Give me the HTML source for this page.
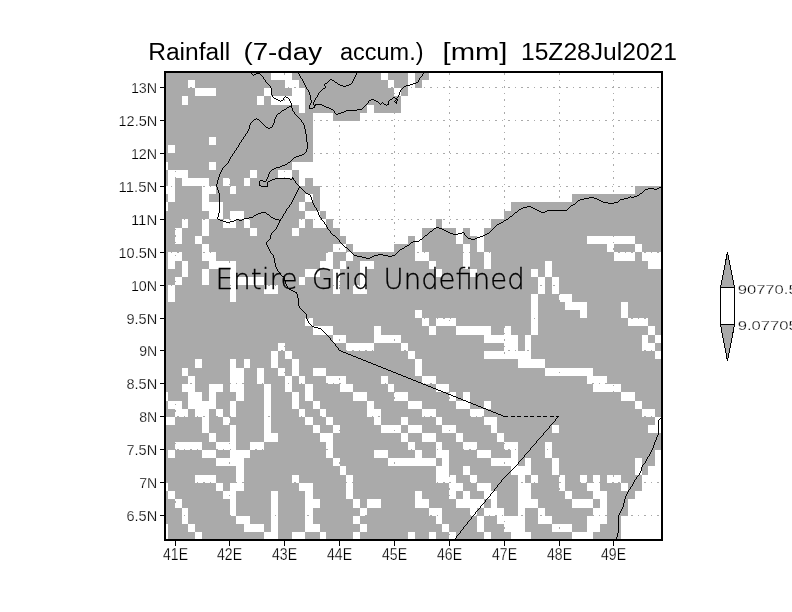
<!DOCTYPE html>
<html><head><meta charset="utf-8"><title>Rainfall (7-day accum.)</title>
<style>html,body{margin:0;padding:0;background:#fff}svg{display:block}text{font-family:"Liberation Sans","DejaVu Sans",sans-serif;fill:#000}.t{font-size:23px}.a{font-size:15.2px}.b{font-size:16.8px}.a,.b,.c{stroke:#fff;stroke-width:.25px}.c{font-size:13px}.u{font-family:"DejaVu Sans","Liberation Sans",sans-serif;font-weight:200;font-size:28.6px;stroke:#000;stroke-width:.3px}</style></head><body>
<svg width="792" height="612" viewBox="0 0 792 612">
<rect width="792" height="612" fill="#fff"/>
<g shape-rendering="crispEdges">
<rect x="166" y="73" width="495" height="466" fill="#aaaaaa"/>
<path fill="#fff" d="M271 73h21v7h-21zM381 73h7v7h-7zM408 73h7v7h-7zM429 73h232v7h-232zM188 80h7v8h-7zM285 80h14v8h-14zM388 80h6v8h-6zM408 80h7v8h-7zM422 80h239v8h-239zM195 88h21v8h-21zM264 88h7v8h-7zM292 88h13v8h-13zM394 88h7v8h-7zM408 88h253v8h-253zM182 96h6v9h-6zM257 96h7v9h-7zM271 96h34v9h-34zM401 96h260v9h-260zM299 105h6v8h-6zM367 105h7v8h-7zM401 105h260v8h-260zM313 113h20v8h-20zM360 113h301v8h-301zM313 121h348v8h-348zM313 129h348v8h-348zM209 137h7v8h-7zM313 137h348v8h-348zM168 145h7v8h-7zM313 145h348v8h-348zM313 153h348v9h-348zM166 162h2v8h-2zM209 162h7v8h-7zM292 162h369v8h-369zM168 170h20v8h-20zM250 170h7v8h-7zM278 170h14v8h-14zM299 170h362v8h-362zM168 178h7v8h-7zM182 178h27v8h-27zM223 178h7v8h-7zM244 178h6v8h-6zM299 178h6v8h-6zM313 178h348v8h-348zM166 186h9v8h-9zM202 186h14v8h-14zM230 186h6v8h-6zM320 186h315v8h-315zM168 194h7v8h-7zM202 194h7v8h-7zM305 194h8v8h-8zM320 194h252v8h-252zM166 202h2v9h-2zM202 202h21v9h-21zM299 202h6v9h-6zM320 202h191v9h-191zM209 211h14v8h-14zM230 211h14v8h-14zM305 211h15v8h-15zM326 211h178v8h-178zM182 219h6v9h-6zM202 219h7v9h-7zM223 219h13v9h-13zM244 219h6v9h-6zM299 219h6v9h-6zM313 219h13v9h-13zM333 219h103v9h-103zM442 219h49v9h-49zM175 228h7v8h-7zM202 228h7v8h-7zM250 228h7v8h-7zM292 228h7v8h-7zM340 228h82v8h-82zM456 228h7v8h-7zM470 228h14v8h-14zM175 236h7v8h-7zM195 236h7v8h-7zM346 236h62v8h-62zM415 236h7v8h-7zM456 236h7v8h-7zM477 236h7v8h-7zM587 236h48v8h-48zM202 244h7v8h-7zM333 244h13v8h-13zM353 244h41v8h-41zM415 244h7v8h-7zM463 244h7v8h-7zM477 244h7v8h-7zM607 244h7v8h-7zM635 244h7v8h-7zM168 252h14v9h-14zM202 252h14v9h-14zM326 252h7v9h-7zM346 252h7v9h-7zM415 252h14v9h-14zM463 252h7v9h-7zM484 252h7v9h-7zM614 252h21v9h-21zM642 252h19v9h-19zM168 261h7v8h-7zM182 261h6v8h-6zM209 261h27v8h-27zM320 261h13v8h-13zM340 261h6v8h-6zM360 261h14v8h-14zM429 261h7v8h-7zM463 261h7v8h-7zM484 261h7v8h-7zM545 261h7v8h-7zM648 261h13v8h-13zM182 269h6v8h-6zM202 269h7v8h-7zM230 269h6v8h-6zM305 269h15v8h-15zM333 269h7v8h-7zM360 269h7v8h-7zM436 269h6v8h-6zM470 269h7v8h-7zM531 269h7v8h-7zM545 269h7v8h-7zM175 277h7v8h-7zM202 277h7v8h-7zM230 277h34v8h-34zM299 277h6v8h-6zM333 277h7v8h-7zM360 277h7v8h-7zM538 277h7v8h-7zM552 277h7v8h-7zM168 285h7v9h-7zM230 285h6v9h-6zM264 285h14v9h-14zM333 285h7v9h-7zM353 285h14v9h-14zM538 285h7v9h-7zM552 285h7v9h-7zM168 294h7v8h-7zM230 294h6v8h-6zM531 294h7v8h-7zM559 294h13v8h-13zM531 302h7v8h-7zM565 302h22v8h-22zM621 302h7v8h-7zM415 310h7v8h-7zM531 310h7v8h-7zM580 310h7v8h-7zM621 310h7v8h-7zM305 318h8v8h-8zM422 318h7v8h-7zM436 318h20v8h-20zM531 318h7v8h-7zM628 318h20v8h-20zM313 326h20v9h-20zM374 326h7v9h-7zM429 326h7v9h-7zM456 326h35v9h-35zM504 326h7v9h-7zM531 326h7v9h-7zM648 326h7v9h-7zM333 335h13v8h-13zM374 335h27v8h-27zM484 335h34v8h-34zM525 335h6v8h-6zM642 335h6v8h-6zM655 335h6v8h-6zM278 343h7v8h-7zM346 343h28v8h-28zM401 343h7v8h-7zM504 343h14v8h-14zM525 343h6v8h-6zM642 343h13v8h-13zM271 351h7v8h-7zM285 351h7v8h-7zM408 351h7v8h-7zM484 351h47v8h-47zM655 351h6v8h-6zM195 359h7v9h-7zM230 359h6v9h-6zM244 359h6v9h-6zM271 359h7v9h-7zM292 359h7v9h-7zM415 359h7v9h-7zM518 359h27v9h-27zM182 368h6v8h-6zM230 368h14v8h-14zM257 368h7v8h-7zM278 368h7v8h-7zM292 368h7v8h-7zM313 368h13v8h-13zM415 368h7v8h-7zM545 368h48v8h-48zM188 376h7v8h-7zM230 376h14v8h-14zM257 376h7v8h-7zM285 376h7v8h-7zM299 376h6v8h-6zM326 376h20v8h-20zM381 376h7v8h-7zM422 376h14v8h-14zM587 376h20v8h-20zM182 384h13v8h-13zM209 384h14v8h-14zM230 384h14v8h-14zM264 384h7v8h-7zM285 384h7v8h-7zM305 384h8v8h-8zM340 384h13v8h-13zM388 384h6v8h-6zM436 384h13v8h-13zM593 384h28v8h-28zM166 392h2v9h-2zM188 392h14v9h-14zM209 392h7v9h-7zM236 392h8v9h-8zM264 392h7v9h-7zM292 392h7v9h-7zM305 392h8v9h-8zM353 392h14v9h-14zM394 392h14v9h-14zM449 392h7v9h-7zM463 392h7v9h-7zM621 392h14v9h-14zM168 401h14v8h-14zM188 401h28v8h-28zM230 401h6v8h-6zM264 401h7v8h-7zM292 401h7v8h-7zM313 401h7v8h-7zM367 401h7v8h-7zM408 401h14v8h-14zM456 401h14v8h-14zM484 401h7v8h-7zM635 401h7v8h-7zM175 409h13v8h-13zM195 409h14v8h-14zM216 409h7v8h-7zM230 409h6v8h-6zM264 409h7v8h-7zM299 409h6v8h-6zM320 409h6v8h-6zM367 409h14v8h-14zM422 409h14v8h-14zM470 409h14v8h-14zM642 409h13v8h-13zM166 417h9v8h-9zM202 417h7v8h-7zM223 417h7v8h-7zM264 417h7v8h-7zM305 417h8v8h-8zM326 417h7v8h-7zM374 417h7v8h-7zM401 417h7v8h-7zM436 417h6v8h-6zM484 417h13v8h-13zM655 417h6v8h-6zM202 425h7v8h-7zM230 425h6v8h-6zM264 425h7v8h-7zM313 425h7v8h-7zM333 425h7v8h-7zM381 425h20v8h-20zM408 425h14v8h-14zM442 425h14v8h-14zM491 425h6v8h-6zM552 425h7v8h-7zM648 425h13v8h-13zM209 433h7v9h-7zM230 433h6v9h-6zM264 433h14v9h-14zM320 433h13v9h-13zM401 433h7v9h-7zM422 433h14v9h-14zM456 433h7v9h-7zM497 433h7v9h-7zM175 442h27v8h-27zM216 442h20v8h-20zM250 442h14v8h-14zM326 442h7v8h-7zM408 442h7v8h-7zM436 442h6v8h-6zM463 442h14v8h-14zM504 442h14v8h-14zM545 442h7v8h-7zM168 450h7v8h-7zM202 450h14v8h-14zM230 450h20v8h-20zM326 450h7v8h-7zM374 450h14v8h-14zM415 450h7v8h-7zM436 450h13v8h-13zM477 450h14v8h-14zM511 450h7v8h-7zM545 450h7v8h-7zM655 450h6v8h-6zM216 458h28v8h-28zM333 458h7v8h-7zM388 458h48v8h-48zM442 458h7v8h-7zM491 458h27v8h-27zM525 458h6v8h-6zM552 458h7v8h-7zM635 458h7v8h-7zM655 458h6v8h-6zM236 466h8v9h-8zM340 466h6v9h-6zM436 466h13v9h-13zM463 466h7v9h-7zM511 466h20v9h-20zM552 466h7v9h-7zM635 466h7v9h-7zM648 466h13v9h-13zM195 475h21v8h-21zM236 475h8v8h-8zM292 475h7v8h-7zM346 475h7v8h-7zM436 475h20v8h-20zM470 475h7v8h-7zM518 475h7v8h-7zM531 475h7v8h-7zM559 475h6v8h-6zM580 475h7v8h-7zM593 475h7v8h-7zM607 475h14v8h-14zM642 475h19v8h-19zM166 483h2v8h-2zM216 483h7v8h-7zM230 483h14v8h-14zM299 483h14v8h-14zM346 483h7v8h-7zM449 483h14v8h-14zM477 483h14v8h-14zM518 483h13v8h-13zM559 483h6v8h-6zM587 483h13v8h-13zM621 483h7v8h-7zM642 483h19v8h-19zM168 491h7v8h-7zM223 491h13v8h-13zM271 491h7v8h-7zM305 491h8v8h-8zM346 491h7v8h-7zM415 491h7v8h-7zM449 491h7v8h-7zM463 491h7v8h-7zM484 491h13v8h-13zM518 491h13v8h-13zM565 491h7v8h-7zM593 491h14v8h-14zM635 491h26v8h-26zM175 499h7v9h-7zM230 499h6v9h-6zM271 499h7v9h-7zM305 499h15v9h-15zM353 499h7v9h-7zM367 499h14v9h-14zM415 499h14v9h-14zM456 499h28v9h-28zM491 499h6v9h-6zM518 499h20v9h-20zM572 499h21v9h-21zM600 499h7v9h-7zM628 499h33v9h-33zM182 508h6v8h-6zM230 508h6v8h-6zM271 508h7v8h-7zM305 508h8v8h-8zM360 508h7v8h-7zM429 508h13v8h-13zM470 508h7v8h-7zM484 508h20v8h-20zM518 508h7v8h-7zM538 508h7v8h-7zM593 508h14v8h-14zM628 508h33v8h-33zM182 516h6v8h-6zM236 516h14v8h-14zM271 516h7v8h-7zM305 516h8v8h-8zM353 516h7v8h-7zM436 516h6v8h-6zM477 516h7v8h-7zM497 516h28v8h-28zM538 516h14v8h-14zM587 516h20v8h-20zM621 516h40v8h-40zM166 524h2v8h-2zM188 524h7v8h-7zM244 524h20v8h-20zM271 524h7v8h-7zM305 524h15v8h-15zM360 524h7v8h-7zM442 524h7v8h-7zM477 524h7v8h-7zM504 524h21v8h-21zM552 524h20v8h-20zM587 524h13v8h-13zM621 524h40v8h-40zM166 532h2v7h-2zM195 532h7v7h-7zM264 532h14v7h-14zM292 532h13v7h-13zM320 532h6v7h-6zM353 532h7v7h-7zM408 532h7v7h-7zM429 532h7v7h-7zM449 532h7v7h-7zM484 532h7v7h-7zM511 532h20v7h-20zM572 532h21v7h-21zM621 532h40v7h-40z"/>
<path d="M171 515h1v1h-1zM177 515h2v1h-2zM184 515h1v1h-1zM190 515h2v1h-2zM197 515h1v1h-1zM203 515h2v1h-2zM210 515h1v1h-1zM216 515h2v1h-2zM223 515h1v1h-1zM229 515h2v1h-2zM236 515h1v1h-1zM242 515h2v1h-2zM249 515h1v1h-1zM255 515h2v1h-2zM262 515h1v1h-1zM268 515h2v1h-2zM275 515h1v1h-1zM281 515h2v1h-2zM288 515h1v1h-1zM294 515h2v1h-2zM301 515h1v1h-1zM307 515h2v1h-2zM314 515h1v1h-1zM320 515h2v1h-2zM326 515h2v1h-2zM333 515h1v1h-1zM339 515h2v1h-2zM346 515h1v1h-1zM352 515h2v1h-2zM359 515h1v1h-1zM365 515h2v1h-2zM372 515h1v1h-1zM378 515h2v1h-2zM385 515h1v1h-1zM391 515h2v1h-2zM398 515h1v1h-1zM404 515h2v1h-2zM411 515h1v1h-1zM417 515h2v1h-2zM424 515h1v1h-1zM430 515h2v1h-2zM437 515h1v1h-1zM443 515h2v1h-2zM450 515h1v1h-1zM456 515h2v1h-2zM463 515h1v1h-1zM469 515h2v1h-2zM476 515h1v1h-1zM482 515h2v1h-2zM489 515h1v1h-1zM495 515h2v1h-2zM502 515h1v1h-1zM508 515h2v1h-2zM515 515h1v1h-1zM521 515h2v1h-2zM527 515h2v1h-2zM534 515h1v1h-1zM540 515h2v1h-2zM547 515h1v1h-1zM553 515h2v1h-2zM560 515h1v1h-1zM566 515h2v1h-2zM573 515h1v1h-1zM579 515h2v1h-2zM586 515h1v1h-1zM592 515h2v1h-2zM599 515h1v1h-1zM605 515h2v1h-2zM612 515h1v1h-1zM618 515h2v1h-2zM625 515h1v1h-1zM631 515h2v1h-2zM638 515h1v1h-1zM644 515h2v1h-2zM651 515h1v1h-1zM657 515h2v1h-2zM171 482h1v1h-1zM177 482h2v1h-2zM184 482h1v1h-1zM190 482h2v1h-2zM197 482h1v1h-1zM203 482h2v1h-2zM210 482h1v1h-1zM216 482h2v1h-2zM223 482h1v1h-1zM229 482h2v1h-2zM236 482h1v1h-1zM242 482h2v1h-2zM249 482h1v1h-1zM255 482h2v1h-2zM262 482h1v1h-1zM268 482h2v1h-2zM275 482h1v1h-1zM281 482h2v1h-2zM288 482h1v1h-1zM294 482h2v1h-2zM301 482h1v1h-1zM307 482h2v1h-2zM314 482h1v1h-1zM320 482h2v1h-2zM326 482h2v1h-2zM333 482h1v1h-1zM339 482h2v1h-2zM346 482h1v1h-1zM352 482h2v1h-2zM359 482h1v1h-1zM365 482h2v1h-2zM372 482h1v1h-1zM378 482h2v1h-2zM385 482h1v1h-1zM391 482h2v1h-2zM398 482h1v1h-1zM404 482h2v1h-2zM411 482h1v1h-1zM417 482h2v1h-2zM424 482h1v1h-1zM430 482h2v1h-2zM437 482h1v1h-1zM443 482h2v1h-2zM450 482h1v1h-1zM456 482h2v1h-2zM463 482h1v1h-1zM469 482h2v1h-2zM476 482h1v1h-1zM482 482h2v1h-2zM489 482h1v1h-1zM495 482h2v1h-2zM502 482h1v1h-1zM508 482h2v1h-2zM515 482h1v1h-1zM521 482h2v1h-2zM527 482h2v1h-2zM534 482h1v1h-1zM540 482h2v1h-2zM547 482h1v1h-1zM553 482h2v1h-2zM560 482h1v1h-1zM566 482h2v1h-2zM573 482h1v1h-1zM579 482h2v1h-2zM586 482h1v1h-1zM592 482h2v1h-2zM599 482h1v1h-1zM605 482h2v1h-2zM612 482h1v1h-1zM618 482h2v1h-2zM625 482h1v1h-1zM631 482h2v1h-2zM638 482h1v1h-1zM644 482h2v1h-2zM651 482h1v1h-1zM657 482h2v1h-2zM171 449h1v1h-1zM177 449h2v1h-2zM184 449h1v1h-1zM190 449h2v1h-2zM197 449h1v1h-1zM203 449h2v1h-2zM210 449h1v1h-1zM216 449h2v1h-2zM223 449h1v1h-1zM229 449h2v1h-2zM236 449h1v1h-1zM242 449h2v1h-2zM249 449h1v1h-1zM255 449h2v1h-2zM262 449h1v1h-1zM268 449h2v1h-2zM275 449h1v1h-1zM281 449h2v1h-2zM288 449h1v1h-1zM294 449h2v1h-2zM301 449h1v1h-1zM307 449h2v1h-2zM314 449h1v1h-1zM320 449h2v1h-2zM326 449h2v1h-2zM333 449h1v1h-1zM339 449h2v1h-2zM346 449h1v1h-1zM352 449h2v1h-2zM359 449h1v1h-1zM365 449h2v1h-2zM372 449h1v1h-1zM378 449h2v1h-2zM385 449h1v1h-1zM391 449h2v1h-2zM398 449h1v1h-1zM404 449h2v1h-2zM411 449h1v1h-1zM417 449h2v1h-2zM424 449h1v1h-1zM430 449h2v1h-2zM437 449h1v1h-1zM443 449h2v1h-2zM450 449h1v1h-1zM456 449h2v1h-2zM463 449h1v1h-1zM469 449h2v1h-2zM476 449h1v1h-1zM482 449h2v1h-2zM489 449h1v1h-1zM495 449h2v1h-2zM502 449h1v1h-1zM508 449h2v1h-2zM515 449h1v1h-1zM521 449h2v1h-2zM527 449h2v1h-2zM534 449h1v1h-1zM540 449h2v1h-2zM547 449h1v1h-1zM553 449h2v1h-2zM560 449h1v1h-1zM566 449h2v1h-2zM573 449h1v1h-1zM579 449h2v1h-2zM586 449h1v1h-1zM592 449h2v1h-2zM599 449h1v1h-1zM605 449h2v1h-2zM612 449h1v1h-1zM618 449h2v1h-2zM625 449h1v1h-1zM631 449h2v1h-2zM638 449h1v1h-1zM644 449h2v1h-2zM651 449h1v1h-1zM657 449h2v1h-2zM171 416h1v1h-1zM177 416h2v1h-2zM184 416h1v1h-1zM190 416h2v1h-2zM197 416h1v1h-1zM203 416h2v1h-2zM210 416h1v1h-1zM216 416h2v1h-2zM223 416h1v1h-1zM229 416h2v1h-2zM236 416h1v1h-1zM242 416h2v1h-2zM249 416h1v1h-1zM255 416h2v1h-2zM262 416h1v1h-1zM268 416h2v1h-2zM275 416h1v1h-1zM281 416h2v1h-2zM288 416h1v1h-1zM294 416h2v1h-2zM301 416h1v1h-1zM307 416h2v1h-2zM314 416h1v1h-1zM320 416h2v1h-2zM326 416h2v1h-2zM333 416h1v1h-1zM339 416h2v1h-2zM346 416h1v1h-1zM352 416h2v1h-2zM359 416h1v1h-1zM365 416h2v1h-2zM372 416h1v1h-1zM378 416h2v1h-2zM385 416h1v1h-1zM391 416h2v1h-2zM398 416h1v1h-1zM404 416h2v1h-2zM411 416h1v1h-1zM417 416h2v1h-2zM424 416h1v1h-1zM430 416h2v1h-2zM437 416h1v1h-1zM443 416h2v1h-2zM450 416h1v1h-1zM456 416h2v1h-2zM463 416h1v1h-1zM469 416h2v1h-2zM476 416h1v1h-1zM482 416h2v1h-2zM489 416h1v1h-1zM495 416h2v1h-2zM502 416h1v1h-1zM508 416h2v1h-2zM515 416h1v1h-1zM521 416h2v1h-2zM527 416h2v1h-2zM534 416h1v1h-1zM540 416h2v1h-2zM547 416h1v1h-1zM553 416h2v1h-2zM560 416h1v1h-1zM566 416h2v1h-2zM573 416h1v1h-1zM579 416h2v1h-2zM586 416h1v1h-1zM592 416h2v1h-2zM599 416h1v1h-1zM605 416h2v1h-2zM612 416h1v1h-1zM618 416h2v1h-2zM625 416h1v1h-1zM631 416h2v1h-2zM638 416h1v1h-1zM644 416h2v1h-2zM651 416h1v1h-1zM657 416h2v1h-2zM171 383h1v1h-1zM177 383h2v1h-2zM184 383h1v1h-1zM190 383h2v1h-2zM197 383h1v1h-1zM203 383h2v1h-2zM210 383h1v1h-1zM216 383h2v1h-2zM223 383h1v1h-1zM229 383h2v1h-2zM236 383h1v1h-1zM242 383h2v1h-2zM249 383h1v1h-1zM255 383h2v1h-2zM262 383h1v1h-1zM268 383h2v1h-2zM275 383h1v1h-1zM281 383h2v1h-2zM288 383h1v1h-1zM294 383h2v1h-2zM301 383h1v1h-1zM307 383h2v1h-2zM314 383h1v1h-1zM320 383h2v1h-2zM326 383h2v1h-2zM333 383h1v1h-1zM339 383h2v1h-2zM346 383h1v1h-1zM352 383h2v1h-2zM359 383h1v1h-1zM365 383h2v1h-2zM372 383h1v1h-1zM378 383h2v1h-2zM385 383h1v1h-1zM391 383h2v1h-2zM398 383h1v1h-1zM404 383h2v1h-2zM411 383h1v1h-1zM417 383h2v1h-2zM424 383h1v1h-1zM430 383h2v1h-2zM437 383h1v1h-1zM443 383h2v1h-2zM450 383h1v1h-1zM456 383h2v1h-2zM463 383h1v1h-1zM469 383h2v1h-2zM476 383h1v1h-1zM482 383h2v1h-2zM489 383h1v1h-1zM495 383h2v1h-2zM502 383h1v1h-1zM508 383h2v1h-2zM515 383h1v1h-1zM521 383h2v1h-2zM527 383h2v1h-2zM534 383h1v1h-1zM540 383h2v1h-2zM547 383h1v1h-1zM553 383h2v1h-2zM560 383h1v1h-1zM566 383h2v1h-2zM573 383h1v1h-1zM579 383h2v1h-2zM586 383h1v1h-1zM592 383h2v1h-2zM599 383h1v1h-1zM605 383h2v1h-2zM612 383h1v1h-1zM618 383h2v1h-2zM625 383h1v1h-1zM631 383h2v1h-2zM638 383h1v1h-1zM644 383h2v1h-2zM651 383h1v1h-1zM657 383h2v1h-2zM171 350h1v1h-1zM177 350h2v1h-2zM184 350h1v1h-1zM190 350h2v1h-2zM197 350h1v1h-1zM203 350h2v1h-2zM210 350h1v1h-1zM216 350h2v1h-2zM223 350h1v1h-1zM229 350h2v1h-2zM236 350h1v1h-1zM242 350h2v1h-2zM249 350h1v1h-1zM255 350h2v1h-2zM262 350h1v1h-1zM268 350h2v1h-2zM275 350h1v1h-1zM281 350h2v1h-2zM288 350h1v1h-1zM294 350h2v1h-2zM301 350h1v1h-1zM307 350h2v1h-2zM314 350h1v1h-1zM320 350h2v1h-2zM326 350h2v1h-2zM333 350h1v1h-1zM339 350h2v1h-2zM346 350h1v1h-1zM352 350h2v1h-2zM359 350h1v1h-1zM365 350h2v1h-2zM372 350h1v1h-1zM378 350h2v1h-2zM385 350h1v1h-1zM391 350h2v1h-2zM398 350h1v1h-1zM404 350h2v1h-2zM411 350h1v1h-1zM417 350h2v1h-2zM424 350h1v1h-1zM430 350h2v1h-2zM437 350h1v1h-1zM443 350h2v1h-2zM450 350h1v1h-1zM456 350h2v1h-2zM463 350h1v1h-1zM469 350h2v1h-2zM476 350h1v1h-1zM482 350h2v1h-2zM489 350h1v1h-1zM495 350h2v1h-2zM502 350h1v1h-1zM508 350h2v1h-2zM515 350h1v1h-1zM521 350h2v1h-2zM527 350h2v1h-2zM534 350h1v1h-1zM540 350h2v1h-2zM547 350h1v1h-1zM553 350h2v1h-2zM560 350h1v1h-1zM566 350h2v1h-2zM573 350h1v1h-1zM579 350h2v1h-2zM586 350h1v1h-1zM592 350h2v1h-2zM599 350h1v1h-1zM605 350h2v1h-2zM612 350h1v1h-1zM618 350h2v1h-2zM625 350h1v1h-1zM631 350h2v1h-2zM638 350h1v1h-1zM644 350h2v1h-2zM651 350h1v1h-1zM657 350h2v1h-2zM171 318h1v1h-1zM177 318h2v1h-2zM184 318h1v1h-1zM190 318h2v1h-2zM197 318h1v1h-1zM203 318h2v1h-2zM210 318h1v1h-1zM216 318h2v1h-2zM223 318h1v1h-1zM229 318h2v1h-2zM236 318h1v1h-1zM242 318h2v1h-2zM249 318h1v1h-1zM255 318h2v1h-2zM262 318h1v1h-1zM268 318h2v1h-2zM275 318h1v1h-1zM281 318h2v1h-2zM288 318h1v1h-1zM294 318h2v1h-2zM301 318h1v1h-1zM307 318h2v1h-2zM314 318h1v1h-1zM320 318h2v1h-2zM326 318h2v1h-2zM333 318h1v1h-1zM339 318h2v1h-2zM346 318h1v1h-1zM352 318h2v1h-2zM359 318h1v1h-1zM365 318h2v1h-2zM372 318h1v1h-1zM378 318h2v1h-2zM385 318h1v1h-1zM391 318h2v1h-2zM398 318h1v1h-1zM404 318h2v1h-2zM411 318h1v1h-1zM417 318h2v1h-2zM424 318h1v1h-1zM430 318h2v1h-2zM437 318h1v1h-1zM443 318h2v1h-2zM450 318h1v1h-1zM456 318h2v1h-2zM463 318h1v1h-1zM469 318h2v1h-2zM476 318h1v1h-1zM482 318h2v1h-2zM489 318h1v1h-1zM495 318h2v1h-2zM502 318h1v1h-1zM508 318h2v1h-2zM515 318h1v1h-1zM521 318h2v1h-2zM527 318h2v1h-2zM534 318h1v1h-1zM540 318h2v1h-2zM547 318h1v1h-1zM553 318h2v1h-2zM560 318h1v1h-1zM566 318h2v1h-2zM573 318h1v1h-1zM579 318h2v1h-2zM586 318h1v1h-1zM592 318h2v1h-2zM599 318h1v1h-1zM605 318h2v1h-2zM612 318h1v1h-1zM618 318h2v1h-2zM625 318h1v1h-1zM631 318h2v1h-2zM638 318h1v1h-1zM644 318h2v1h-2zM651 318h1v1h-1zM657 318h2v1h-2zM171 285h1v1h-1zM177 285h2v1h-2zM184 285h1v1h-1zM190 285h2v1h-2zM197 285h1v1h-1zM203 285h2v1h-2zM210 285h1v1h-1zM216 285h2v1h-2zM223 285h1v1h-1zM229 285h2v1h-2zM236 285h1v1h-1zM242 285h2v1h-2zM249 285h1v1h-1zM255 285h2v1h-2zM262 285h1v1h-1zM268 285h2v1h-2zM275 285h1v1h-1zM281 285h2v1h-2zM288 285h1v1h-1zM294 285h2v1h-2zM301 285h1v1h-1zM307 285h2v1h-2zM314 285h1v1h-1zM320 285h2v1h-2zM326 285h2v1h-2zM333 285h1v1h-1zM339 285h2v1h-2zM346 285h1v1h-1zM352 285h2v1h-2zM359 285h1v1h-1zM365 285h2v1h-2zM372 285h1v1h-1zM378 285h2v1h-2zM385 285h1v1h-1zM391 285h2v1h-2zM398 285h1v1h-1zM404 285h2v1h-2zM411 285h1v1h-1zM417 285h2v1h-2zM424 285h1v1h-1zM430 285h2v1h-2zM437 285h1v1h-1zM443 285h2v1h-2zM450 285h1v1h-1zM456 285h2v1h-2zM463 285h1v1h-1zM469 285h2v1h-2zM476 285h1v1h-1zM482 285h2v1h-2zM489 285h1v1h-1zM495 285h2v1h-2zM502 285h1v1h-1zM508 285h2v1h-2zM515 285h1v1h-1zM521 285h2v1h-2zM527 285h2v1h-2zM534 285h1v1h-1zM540 285h2v1h-2zM547 285h1v1h-1zM553 285h2v1h-2zM560 285h1v1h-1zM566 285h2v1h-2zM573 285h1v1h-1zM579 285h2v1h-2zM586 285h1v1h-1zM592 285h2v1h-2zM599 285h1v1h-1zM605 285h2v1h-2zM612 285h1v1h-1zM618 285h2v1h-2zM625 285h1v1h-1zM631 285h2v1h-2zM638 285h1v1h-1zM644 285h2v1h-2zM651 285h1v1h-1zM657 285h2v1h-2zM171 252h1v1h-1zM177 252h2v1h-2zM184 252h1v1h-1zM190 252h2v1h-2zM197 252h1v1h-1zM203 252h2v1h-2zM210 252h1v1h-1zM216 252h2v1h-2zM223 252h1v1h-1zM229 252h2v1h-2zM236 252h1v1h-1zM242 252h2v1h-2zM249 252h1v1h-1zM255 252h2v1h-2zM262 252h1v1h-1zM268 252h2v1h-2zM275 252h1v1h-1zM281 252h2v1h-2zM288 252h1v1h-1zM294 252h2v1h-2zM301 252h1v1h-1zM307 252h2v1h-2zM314 252h1v1h-1zM320 252h2v1h-2zM326 252h2v1h-2zM333 252h1v1h-1zM339 252h2v1h-2zM346 252h1v1h-1zM352 252h2v1h-2zM359 252h1v1h-1zM365 252h2v1h-2zM372 252h1v1h-1zM378 252h2v1h-2zM385 252h1v1h-1zM391 252h2v1h-2zM398 252h1v1h-1zM404 252h2v1h-2zM411 252h1v1h-1zM417 252h2v1h-2zM424 252h1v1h-1zM430 252h2v1h-2zM437 252h1v1h-1zM443 252h2v1h-2zM450 252h1v1h-1zM456 252h2v1h-2zM463 252h1v1h-1zM469 252h2v1h-2zM476 252h1v1h-1zM482 252h2v1h-2zM489 252h1v1h-1zM495 252h2v1h-2zM502 252h1v1h-1zM508 252h2v1h-2zM515 252h1v1h-1zM521 252h2v1h-2zM527 252h2v1h-2zM534 252h1v1h-1zM540 252h2v1h-2zM547 252h1v1h-1zM553 252h2v1h-2zM560 252h1v1h-1zM566 252h2v1h-2zM573 252h1v1h-1zM579 252h2v1h-2zM586 252h1v1h-1zM592 252h2v1h-2zM599 252h1v1h-1zM605 252h2v1h-2zM612 252h1v1h-1zM618 252h2v1h-2zM625 252h1v1h-1zM631 252h2v1h-2zM638 252h1v1h-1zM644 252h2v1h-2zM651 252h1v1h-1zM657 252h2v1h-2zM171 219h1v1h-1zM177 219h2v1h-2zM184 219h1v1h-1zM190 219h2v1h-2zM197 219h1v1h-1zM203 219h2v1h-2zM210 219h1v1h-1zM216 219h2v1h-2zM223 219h1v1h-1zM229 219h2v1h-2zM236 219h1v1h-1zM242 219h2v1h-2zM249 219h1v1h-1zM255 219h2v1h-2zM262 219h1v1h-1zM268 219h2v1h-2zM275 219h1v1h-1zM281 219h2v1h-2zM288 219h1v1h-1zM294 219h2v1h-2zM301 219h1v1h-1zM307 219h2v1h-2zM314 219h1v1h-1zM320 219h2v1h-2zM326 219h2v1h-2zM333 219h1v1h-1zM339 219h2v1h-2zM346 219h1v1h-1zM352 219h2v1h-2zM359 219h1v1h-1zM365 219h2v1h-2zM372 219h1v1h-1zM378 219h2v1h-2zM385 219h1v1h-1zM391 219h2v1h-2zM398 219h1v1h-1zM404 219h2v1h-2zM411 219h1v1h-1zM417 219h2v1h-2zM424 219h1v1h-1zM430 219h2v1h-2zM437 219h1v1h-1zM443 219h2v1h-2zM450 219h1v1h-1zM456 219h2v1h-2zM463 219h1v1h-1zM469 219h2v1h-2zM476 219h1v1h-1zM482 219h2v1h-2zM489 219h1v1h-1zM495 219h2v1h-2zM502 219h1v1h-1zM508 219h2v1h-2zM515 219h1v1h-1zM521 219h2v1h-2zM527 219h2v1h-2zM534 219h1v1h-1zM540 219h2v1h-2zM547 219h1v1h-1zM553 219h2v1h-2zM560 219h1v1h-1zM566 219h2v1h-2zM573 219h1v1h-1zM579 219h2v1h-2zM586 219h1v1h-1zM592 219h2v1h-2zM599 219h1v1h-1zM605 219h2v1h-2zM612 219h1v1h-1zM618 219h2v1h-2zM625 219h1v1h-1zM631 219h2v1h-2zM638 219h1v1h-1zM644 219h2v1h-2zM651 219h1v1h-1zM657 219h2v1h-2zM171 186h1v1h-1zM177 186h2v1h-2zM184 186h1v1h-1zM190 186h2v1h-2zM197 186h1v1h-1zM203 186h2v1h-2zM210 186h1v1h-1zM216 186h2v1h-2zM223 186h1v1h-1zM229 186h2v1h-2zM236 186h1v1h-1zM242 186h2v1h-2zM249 186h1v1h-1zM255 186h2v1h-2zM262 186h1v1h-1zM268 186h2v1h-2zM275 186h1v1h-1zM281 186h2v1h-2zM288 186h1v1h-1zM294 186h2v1h-2zM301 186h1v1h-1zM307 186h2v1h-2zM314 186h1v1h-1zM320 186h2v1h-2zM326 186h2v1h-2zM333 186h1v1h-1zM339 186h2v1h-2zM346 186h1v1h-1zM352 186h2v1h-2zM359 186h1v1h-1zM365 186h2v1h-2zM372 186h1v1h-1zM378 186h2v1h-2zM385 186h1v1h-1zM391 186h2v1h-2zM398 186h1v1h-1zM404 186h2v1h-2zM411 186h1v1h-1zM417 186h2v1h-2zM424 186h1v1h-1zM430 186h2v1h-2zM437 186h1v1h-1zM443 186h2v1h-2zM450 186h1v1h-1zM456 186h2v1h-2zM463 186h1v1h-1zM469 186h2v1h-2zM476 186h1v1h-1zM482 186h2v1h-2zM489 186h1v1h-1zM495 186h2v1h-2zM502 186h1v1h-1zM508 186h2v1h-2zM515 186h1v1h-1zM521 186h2v1h-2zM527 186h2v1h-2zM534 186h1v1h-1zM540 186h2v1h-2zM547 186h1v1h-1zM553 186h2v1h-2zM560 186h1v1h-1zM566 186h2v1h-2zM573 186h1v1h-1zM579 186h2v1h-2zM586 186h1v1h-1zM592 186h2v1h-2zM599 186h1v1h-1zM605 186h2v1h-2zM612 186h1v1h-1zM618 186h2v1h-2zM625 186h1v1h-1zM631 186h2v1h-2zM638 186h1v1h-1zM644 186h2v1h-2zM651 186h1v1h-1zM657 186h2v1h-2zM171 153h1v1h-1zM177 153h2v1h-2zM184 153h1v1h-1zM190 153h2v1h-2zM197 153h1v1h-1zM203 153h2v1h-2zM210 153h1v1h-1zM216 153h2v1h-2zM223 153h1v1h-1zM229 153h2v1h-2zM236 153h1v1h-1zM242 153h2v1h-2zM249 153h1v1h-1zM255 153h2v1h-2zM262 153h1v1h-1zM268 153h2v1h-2zM275 153h1v1h-1zM281 153h2v1h-2zM288 153h1v1h-1zM294 153h2v1h-2zM301 153h1v1h-1zM307 153h2v1h-2zM314 153h1v1h-1zM320 153h2v1h-2zM326 153h2v1h-2zM333 153h1v1h-1zM339 153h2v1h-2zM346 153h1v1h-1zM352 153h2v1h-2zM359 153h1v1h-1zM365 153h2v1h-2zM372 153h1v1h-1zM378 153h2v1h-2zM385 153h1v1h-1zM391 153h2v1h-2zM398 153h1v1h-1zM404 153h2v1h-2zM411 153h1v1h-1zM417 153h2v1h-2zM424 153h1v1h-1zM430 153h2v1h-2zM437 153h1v1h-1zM443 153h2v1h-2zM450 153h1v1h-1zM456 153h2v1h-2zM463 153h1v1h-1zM469 153h2v1h-2zM476 153h1v1h-1zM482 153h2v1h-2zM489 153h1v1h-1zM495 153h2v1h-2zM502 153h1v1h-1zM508 153h2v1h-2zM515 153h1v1h-1zM521 153h2v1h-2zM527 153h2v1h-2zM534 153h1v1h-1zM540 153h2v1h-2zM547 153h1v1h-1zM553 153h2v1h-2zM560 153h1v1h-1zM566 153h2v1h-2zM573 153h1v1h-1zM579 153h2v1h-2zM586 153h1v1h-1zM592 153h2v1h-2zM599 153h1v1h-1zM605 153h2v1h-2zM612 153h1v1h-1zM618 153h2v1h-2zM625 153h1v1h-1zM631 153h2v1h-2zM638 153h1v1h-1zM644 153h2v1h-2zM651 153h1v1h-1zM657 153h2v1h-2zM171 120h1v1h-1zM177 120h2v1h-2zM184 120h1v1h-1zM190 120h2v1h-2zM197 120h1v1h-1zM203 120h2v1h-2zM210 120h1v1h-1zM216 120h2v1h-2zM223 120h1v1h-1zM229 120h2v1h-2zM236 120h1v1h-1zM242 120h2v1h-2zM249 120h1v1h-1zM255 120h2v1h-2zM262 120h1v1h-1zM268 120h2v1h-2zM275 120h1v1h-1zM281 120h2v1h-2zM288 120h1v1h-1zM294 120h2v1h-2zM301 120h1v1h-1zM307 120h2v1h-2zM314 120h1v1h-1zM320 120h2v1h-2zM326 120h2v1h-2zM333 120h1v1h-1zM339 120h2v1h-2zM346 120h1v1h-1zM352 120h2v1h-2zM359 120h1v1h-1zM365 120h2v1h-2zM372 120h1v1h-1zM378 120h2v1h-2zM385 120h1v1h-1zM391 120h2v1h-2zM398 120h1v1h-1zM404 120h2v1h-2zM411 120h1v1h-1zM417 120h2v1h-2zM424 120h1v1h-1zM430 120h2v1h-2zM437 120h1v1h-1zM443 120h2v1h-2zM450 120h1v1h-1zM456 120h2v1h-2zM463 120h1v1h-1zM469 120h2v1h-2zM476 120h1v1h-1zM482 120h2v1h-2zM489 120h1v1h-1zM495 120h2v1h-2zM502 120h1v1h-1zM508 120h2v1h-2zM515 120h1v1h-1zM521 120h2v1h-2zM527 120h2v1h-2zM534 120h1v1h-1zM540 120h2v1h-2zM547 120h1v1h-1zM553 120h2v1h-2zM560 120h1v1h-1zM566 120h2v1h-2zM573 120h1v1h-1zM579 120h2v1h-2zM586 120h1v1h-1zM592 120h2v1h-2zM599 120h1v1h-1zM605 120h2v1h-2zM612 120h1v1h-1zM618 120h2v1h-2zM625 120h1v1h-1zM631 120h2v1h-2zM638 120h1v1h-1zM644 120h2v1h-2zM651 120h1v1h-1zM657 120h2v1h-2zM171 87h1v1h-1zM177 87h2v1h-2zM184 87h1v1h-1zM190 87h2v1h-2zM197 87h1v1h-1zM203 87h2v1h-2zM210 87h1v1h-1zM216 87h2v1h-2zM223 87h1v1h-1zM229 87h2v1h-2zM236 87h1v1h-1zM242 87h2v1h-2zM249 87h1v1h-1zM255 87h2v1h-2zM262 87h1v1h-1zM268 87h2v1h-2zM275 87h1v1h-1zM281 87h2v1h-2zM288 87h1v1h-1zM294 87h2v1h-2zM301 87h1v1h-1zM307 87h2v1h-2zM314 87h1v1h-1zM320 87h2v1h-2zM326 87h2v1h-2zM333 87h1v1h-1zM339 87h2v1h-2zM346 87h1v1h-1zM352 87h2v1h-2zM359 87h1v1h-1zM365 87h2v1h-2zM372 87h1v1h-1zM378 87h2v1h-2zM385 87h1v1h-1zM391 87h2v1h-2zM398 87h1v1h-1zM404 87h2v1h-2zM411 87h1v1h-1zM417 87h2v1h-2zM424 87h1v1h-1zM430 87h2v1h-2zM437 87h1v1h-1zM443 87h2v1h-2zM450 87h1v1h-1zM456 87h2v1h-2zM463 87h1v1h-1zM469 87h2v1h-2zM476 87h1v1h-1zM482 87h2v1h-2zM489 87h1v1h-1zM495 87h2v1h-2zM502 87h1v1h-1zM508 87h2v1h-2zM515 87h1v1h-1zM521 87h2v1h-2zM527 87h2v1h-2zM534 87h1v1h-1zM540 87h2v1h-2zM547 87h1v1h-1zM553 87h2v1h-2zM560 87h1v1h-1zM566 87h2v1h-2zM573 87h1v1h-1zM579 87h2v1h-2zM586 87h1v1h-1zM592 87h2v1h-2zM599 87h1v1h-1zM605 87h2v1h-2zM612 87h1v1h-1zM618 87h2v1h-2zM625 87h1v1h-1zM631 87h2v1h-2zM638 87h1v1h-1zM644 87h2v1h-2zM651 87h1v1h-1zM657 87h2v1h-2zM175 73v2h1v-2zM175 80v1h1v-1zM175 86v2h1v-2zM175 93v1h1v-1zM175 99v2h1v-2zM175 106v1h1v-1zM175 112v2h1v-2zM175 119v1h1v-1zM175 125v2h1v-2zM175 132v1h1v-1zM175 138v2h1v-2zM175 145v1h1v-1zM175 151v2h1v-2zM175 158v1h1v-1zM175 164v2h1v-2zM175 171v1h1v-1zM175 177v2h1v-2zM175 184v1h1v-1zM175 190v2h1v-2zM175 196v2h1v-2zM175 203v1h1v-1zM175 209v2h1v-2zM175 216v1h1v-1zM175 222v2h1v-2zM175 229v1h1v-1zM175 235v2h1v-2zM175 242v1h1v-1zM175 248v2h1v-2zM175 255v1h1v-1zM175 261v2h1v-2zM175 268v1h1v-1zM175 274v2h1v-2zM175 281v1h1v-1zM175 287v2h1v-2zM175 294v1h1v-1zM175 300v2h1v-2zM175 307v1h1v-1zM175 313v2h1v-2zM175 320v1h1v-1zM175 326v2h1v-2zM175 333v1h1v-1zM175 339v2h1v-2zM175 346v1h1v-1zM175 352v2h1v-2zM175 359v1h1v-1zM175 365v2h1v-2zM175 372v1h1v-1zM175 378v2h1v-2zM175 385v1h1v-1zM175 391v2h1v-2zM175 397v2h1v-2zM175 404v1h1v-1zM175 410v2h1v-2zM175 417v1h1v-1zM175 423v2h1v-2zM175 430v1h1v-1zM175 436v2h1v-2zM175 443v1h1v-1zM175 449v2h1v-2zM175 456v1h1v-1zM175 462v2h1v-2zM175 469v1h1v-1zM175 475v2h1v-2zM175 482v1h1v-1zM175 488v2h1v-2zM175 495v1h1v-1zM175 501v2h1v-2zM175 508v1h1v-1zM175 514v2h1v-2zM175 521v1h1v-1zM175 527v2h1v-2zM175 534v1h1v-1zM229 73v2h1v-2zM229 80v1h1v-1zM229 86v2h1v-2zM229 93v1h1v-1zM229 99v2h1v-2zM229 106v1h1v-1zM229 112v2h1v-2zM229 119v1h1v-1zM229 125v2h1v-2zM229 132v1h1v-1zM229 138v2h1v-2zM229 145v1h1v-1zM229 151v2h1v-2zM229 158v1h1v-1zM229 164v2h1v-2zM229 171v1h1v-1zM229 177v2h1v-2zM229 184v1h1v-1zM229 190v2h1v-2zM229 196v2h1v-2zM229 203v1h1v-1zM229 209v2h1v-2zM229 216v1h1v-1zM229 222v2h1v-2zM229 229v1h1v-1zM229 235v2h1v-2zM229 242v1h1v-1zM229 248v2h1v-2zM229 255v1h1v-1zM229 261v2h1v-2zM229 268v1h1v-1zM229 274v2h1v-2zM229 281v1h1v-1zM229 287v2h1v-2zM229 294v1h1v-1zM229 300v2h1v-2zM229 307v1h1v-1zM229 313v2h1v-2zM229 320v1h1v-1zM229 326v2h1v-2zM229 333v1h1v-1zM229 339v2h1v-2zM229 346v1h1v-1zM229 352v2h1v-2zM229 359v1h1v-1zM229 365v2h1v-2zM229 372v1h1v-1zM229 378v2h1v-2zM229 385v1h1v-1zM229 391v2h1v-2zM229 397v2h1v-2zM229 404v1h1v-1zM229 410v2h1v-2zM229 417v1h1v-1zM229 423v2h1v-2zM229 430v1h1v-1zM229 436v2h1v-2zM229 443v1h1v-1zM229 449v2h1v-2zM229 456v1h1v-1zM229 462v2h1v-2zM229 469v1h1v-1zM229 475v2h1v-2zM229 482v1h1v-1zM229 488v2h1v-2zM229 495v1h1v-1zM229 501v2h1v-2zM229 508v1h1v-1zM229 514v2h1v-2zM229 521v1h1v-1zM229 527v2h1v-2zM229 534v1h1v-1zM284 73v2h1v-2zM284 80v1h1v-1zM284 86v2h1v-2zM284 93v1h1v-1zM284 99v2h1v-2zM284 106v1h1v-1zM284 112v2h1v-2zM284 119v1h1v-1zM284 125v2h1v-2zM284 132v1h1v-1zM284 138v2h1v-2zM284 145v1h1v-1zM284 151v2h1v-2zM284 158v1h1v-1zM284 164v2h1v-2zM284 171v1h1v-1zM284 177v2h1v-2zM284 184v1h1v-1zM284 190v2h1v-2zM284 196v2h1v-2zM284 203v1h1v-1zM284 209v2h1v-2zM284 216v1h1v-1zM284 222v2h1v-2zM284 229v1h1v-1zM284 235v2h1v-2zM284 242v1h1v-1zM284 248v2h1v-2zM284 255v1h1v-1zM284 261v2h1v-2zM284 268v1h1v-1zM284 274v2h1v-2zM284 281v1h1v-1zM284 287v2h1v-2zM284 294v1h1v-1zM284 300v2h1v-2zM284 307v1h1v-1zM284 313v2h1v-2zM284 320v1h1v-1zM284 326v2h1v-2zM284 333v1h1v-1zM284 339v2h1v-2zM284 346v1h1v-1zM284 352v2h1v-2zM284 359v1h1v-1zM284 365v2h1v-2zM284 372v1h1v-1zM284 378v2h1v-2zM284 385v1h1v-1zM284 391v2h1v-2zM284 397v2h1v-2zM284 404v1h1v-1zM284 410v2h1v-2zM284 417v1h1v-1zM284 423v2h1v-2zM284 430v1h1v-1zM284 436v2h1v-2zM284 443v1h1v-1zM284 449v2h1v-2zM284 456v1h1v-1zM284 462v2h1v-2zM284 469v1h1v-1zM284 475v2h1v-2zM284 482v1h1v-1zM284 488v2h1v-2zM284 495v1h1v-1zM284 501v2h1v-2zM284 508v1h1v-1zM284 514v2h1v-2zM284 521v1h1v-1zM284 527v2h1v-2zM284 534v1h1v-1zM339 73v2h1v-2zM339 80v1h1v-1zM339 86v2h1v-2zM339 93v1h1v-1zM339 99v2h1v-2zM339 106v1h1v-1zM339 112v2h1v-2zM339 119v1h1v-1zM339 125v2h1v-2zM339 132v1h1v-1zM339 138v2h1v-2zM339 145v1h1v-1zM339 151v2h1v-2zM339 158v1h1v-1zM339 164v2h1v-2zM339 171v1h1v-1zM339 177v2h1v-2zM339 184v1h1v-1zM339 190v2h1v-2zM339 196v2h1v-2zM339 203v1h1v-1zM339 209v2h1v-2zM339 216v1h1v-1zM339 222v2h1v-2zM339 229v1h1v-1zM339 235v2h1v-2zM339 242v1h1v-1zM339 248v2h1v-2zM339 255v1h1v-1zM339 261v2h1v-2zM339 268v1h1v-1zM339 274v2h1v-2zM339 281v1h1v-1zM339 287v2h1v-2zM339 294v1h1v-1zM339 300v2h1v-2zM339 307v1h1v-1zM339 313v2h1v-2zM339 320v1h1v-1zM339 326v2h1v-2zM339 333v1h1v-1zM339 339v2h1v-2zM339 346v1h1v-1zM339 352v2h1v-2zM339 359v1h1v-1zM339 365v2h1v-2zM339 372v1h1v-1zM339 378v2h1v-2zM339 385v1h1v-1zM339 391v2h1v-2zM339 397v2h1v-2zM339 404v1h1v-1zM339 410v2h1v-2zM339 417v1h1v-1zM339 423v2h1v-2zM339 430v1h1v-1zM339 436v2h1v-2zM339 443v1h1v-1zM339 449v2h1v-2zM339 456v1h1v-1zM339 462v2h1v-2zM339 469v1h1v-1zM339 475v2h1v-2zM339 482v1h1v-1zM339 488v2h1v-2zM339 495v1h1v-1zM339 501v2h1v-2zM339 508v1h1v-1zM339 514v2h1v-2zM339 521v1h1v-1zM339 527v2h1v-2zM339 534v1h1v-1zM394 73v2h1v-2zM394 80v1h1v-1zM394 86v2h1v-2zM394 93v1h1v-1zM394 99v2h1v-2zM394 106v1h1v-1zM394 112v2h1v-2zM394 119v1h1v-1zM394 125v2h1v-2zM394 132v1h1v-1zM394 138v2h1v-2zM394 145v1h1v-1zM394 151v2h1v-2zM394 158v1h1v-1zM394 164v2h1v-2zM394 171v1h1v-1zM394 177v2h1v-2zM394 184v1h1v-1zM394 190v2h1v-2zM394 196v2h1v-2zM394 203v1h1v-1zM394 209v2h1v-2zM394 216v1h1v-1zM394 222v2h1v-2zM394 229v1h1v-1zM394 235v2h1v-2zM394 242v1h1v-1zM394 248v2h1v-2zM394 255v1h1v-1zM394 261v2h1v-2zM394 268v1h1v-1zM394 274v2h1v-2zM394 281v1h1v-1zM394 287v2h1v-2zM394 294v1h1v-1zM394 300v2h1v-2zM394 307v1h1v-1zM394 313v2h1v-2zM394 320v1h1v-1zM394 326v2h1v-2zM394 333v1h1v-1zM394 339v2h1v-2zM394 346v1h1v-1zM394 352v2h1v-2zM394 359v1h1v-1zM394 365v2h1v-2zM394 372v1h1v-1zM394 378v2h1v-2zM394 385v1h1v-1zM394 391v2h1v-2zM394 397v2h1v-2zM394 404v1h1v-1zM394 410v2h1v-2zM394 417v1h1v-1zM394 423v2h1v-2zM394 430v1h1v-1zM394 436v2h1v-2zM394 443v1h1v-1zM394 449v2h1v-2zM394 456v1h1v-1zM394 462v2h1v-2zM394 469v1h1v-1zM394 475v2h1v-2zM394 482v1h1v-1zM394 488v2h1v-2zM394 495v1h1v-1zM394 501v2h1v-2zM394 508v1h1v-1zM394 514v2h1v-2zM394 521v1h1v-1zM394 527v2h1v-2zM394 534v1h1v-1zM449 73v2h1v-2zM449 80v1h1v-1zM449 86v2h1v-2zM449 93v1h1v-1zM449 99v2h1v-2zM449 106v1h1v-1zM449 112v2h1v-2zM449 119v1h1v-1zM449 125v2h1v-2zM449 132v1h1v-1zM449 138v2h1v-2zM449 145v1h1v-1zM449 151v2h1v-2zM449 158v1h1v-1zM449 164v2h1v-2zM449 171v1h1v-1zM449 177v2h1v-2zM449 184v1h1v-1zM449 190v2h1v-2zM449 196v2h1v-2zM449 203v1h1v-1zM449 209v2h1v-2zM449 216v1h1v-1zM449 222v2h1v-2zM449 229v1h1v-1zM449 235v2h1v-2zM449 242v1h1v-1zM449 248v2h1v-2zM449 255v1h1v-1zM449 261v2h1v-2zM449 268v1h1v-1zM449 274v2h1v-2zM449 281v1h1v-1zM449 287v2h1v-2zM449 294v1h1v-1zM449 300v2h1v-2zM449 307v1h1v-1zM449 313v2h1v-2zM449 320v1h1v-1zM449 326v2h1v-2zM449 333v1h1v-1zM449 339v2h1v-2zM449 346v1h1v-1zM449 352v2h1v-2zM449 359v1h1v-1zM449 365v2h1v-2zM449 372v1h1v-1zM449 378v2h1v-2zM449 385v1h1v-1zM449 391v2h1v-2zM449 397v2h1v-2zM449 404v1h1v-1zM449 410v2h1v-2zM449 417v1h1v-1zM449 423v2h1v-2zM449 430v1h1v-1zM449 436v2h1v-2zM449 443v1h1v-1zM449 449v2h1v-2zM449 456v1h1v-1zM449 462v2h1v-2zM449 469v1h1v-1zM449 475v2h1v-2zM449 482v1h1v-1zM449 488v2h1v-2zM449 495v1h1v-1zM449 501v2h1v-2zM449 508v1h1v-1zM449 514v2h1v-2zM449 521v1h1v-1zM449 527v2h1v-2zM449 534v1h1v-1zM504 73v2h1v-2zM504 80v1h1v-1zM504 86v2h1v-2zM504 93v1h1v-1zM504 99v2h1v-2zM504 106v1h1v-1zM504 112v2h1v-2zM504 119v1h1v-1zM504 125v2h1v-2zM504 132v1h1v-1zM504 138v2h1v-2zM504 145v1h1v-1zM504 151v2h1v-2zM504 158v1h1v-1zM504 164v2h1v-2zM504 171v1h1v-1zM504 177v2h1v-2zM504 184v1h1v-1zM504 190v2h1v-2zM504 196v2h1v-2zM504 203v1h1v-1zM504 209v2h1v-2zM504 216v1h1v-1zM504 222v2h1v-2zM504 229v1h1v-1zM504 235v2h1v-2zM504 242v1h1v-1zM504 248v2h1v-2zM504 255v1h1v-1zM504 261v2h1v-2zM504 268v1h1v-1zM504 274v2h1v-2zM504 281v1h1v-1zM504 287v2h1v-2zM504 294v1h1v-1zM504 300v2h1v-2zM504 307v1h1v-1zM504 313v2h1v-2zM504 320v1h1v-1zM504 326v2h1v-2zM504 333v1h1v-1zM504 339v2h1v-2zM504 346v1h1v-1zM504 352v2h1v-2zM504 359v1h1v-1zM504 365v2h1v-2zM504 372v1h1v-1zM504 378v2h1v-2zM504 385v1h1v-1zM504 391v2h1v-2zM504 397v2h1v-2zM504 404v1h1v-1zM504 410v2h1v-2zM504 417v1h1v-1zM504 423v2h1v-2zM504 430v1h1v-1zM504 436v2h1v-2zM504 443v1h1v-1zM504 449v2h1v-2zM504 456v1h1v-1zM504 462v2h1v-2zM504 469v1h1v-1zM504 475v2h1v-2zM504 482v1h1v-1zM504 488v2h1v-2zM504 495v1h1v-1zM504 501v2h1v-2zM504 508v1h1v-1zM504 514v2h1v-2zM504 521v1h1v-1zM504 527v2h1v-2zM504 534v1h1v-1zM559 73v2h1v-2zM559 80v1h1v-1zM559 86v2h1v-2zM559 93v1h1v-1zM559 99v2h1v-2zM559 106v1h1v-1zM559 112v2h1v-2zM559 119v1h1v-1zM559 125v2h1v-2zM559 132v1h1v-1zM559 138v2h1v-2zM559 145v1h1v-1zM559 151v2h1v-2zM559 158v1h1v-1zM559 164v2h1v-2zM559 171v1h1v-1zM559 177v2h1v-2zM559 184v1h1v-1zM559 190v2h1v-2zM559 196v2h1v-2zM559 203v1h1v-1zM559 209v2h1v-2zM559 216v1h1v-1zM559 222v2h1v-2zM559 229v1h1v-1zM559 235v2h1v-2zM559 242v1h1v-1zM559 248v2h1v-2zM559 255v1h1v-1zM559 261v2h1v-2zM559 268v1h1v-1zM559 274v2h1v-2zM559 281v1h1v-1zM559 287v2h1v-2zM559 294v1h1v-1zM559 300v2h1v-2zM559 307v1h1v-1zM559 313v2h1v-2zM559 320v1h1v-1zM559 326v2h1v-2zM559 333v1h1v-1zM559 339v2h1v-2zM559 346v1h1v-1zM559 352v2h1v-2zM559 359v1h1v-1zM559 365v2h1v-2zM559 372v1h1v-1zM559 378v2h1v-2zM559 385v1h1v-1zM559 391v2h1v-2zM559 397v2h1v-2zM559 404v1h1v-1zM559 410v2h1v-2zM559 417v1h1v-1zM559 423v2h1v-2zM559 430v1h1v-1zM559 436v2h1v-2zM559 443v1h1v-1zM559 449v2h1v-2zM559 456v1h1v-1zM559 462v2h1v-2zM559 469v1h1v-1zM559 475v2h1v-2zM559 482v1h1v-1zM559 488v2h1v-2zM559 495v1h1v-1zM559 501v2h1v-2zM559 508v1h1v-1zM559 514v2h1v-2zM559 521v1h1v-1zM559 527v2h1v-2zM559 534v1h1v-1zM613 73v2h1v-2zM613 80v1h1v-1zM613 86v2h1v-2zM613 93v1h1v-1zM613 99v2h1v-2zM613 106v1h1v-1zM613 112v2h1v-2zM613 119v1h1v-1zM613 125v2h1v-2zM613 132v1h1v-1zM613 138v2h1v-2zM613 145v1h1v-1zM613 151v2h1v-2zM613 158v1h1v-1zM613 164v2h1v-2zM613 171v1h1v-1zM613 177v2h1v-2zM613 184v1h1v-1zM613 190v2h1v-2zM613 196v2h1v-2zM613 203v1h1v-1zM613 209v2h1v-2zM613 216v1h1v-1zM613 222v2h1v-2zM613 229v1h1v-1zM613 235v2h1v-2zM613 242v1h1v-1zM613 248v2h1v-2zM613 255v1h1v-1zM613 261v2h1v-2zM613 268v1h1v-1zM613 274v2h1v-2zM613 281v1h1v-1zM613 287v2h1v-2zM613 294v1h1v-1zM613 300v2h1v-2zM613 307v1h1v-1zM613 313v2h1v-2zM613 320v1h1v-1zM613 326v2h1v-2zM613 333v1h1v-1zM613 339v2h1v-2zM613 346v1h1v-1zM613 352v2h1v-2zM613 359v1h1v-1zM613 365v2h1v-2zM613 372v1h1v-1zM613 378v2h1v-2zM613 385v1h1v-1zM613 391v2h1v-2zM613 397v2h1v-2zM613 404v1h1v-1zM613 410v2h1v-2zM613 417v1h1v-1zM613 423v2h1v-2zM613 430v1h1v-1zM613 436v2h1v-2zM613 443v1h1v-1zM613 449v2h1v-2zM613 456v1h1v-1zM613 462v2h1v-2zM613 469v1h1v-1zM613 475v2h1v-2zM613 482v1h1v-1zM613 488v2h1v-2zM613 495v1h1v-1zM613 501v2h1v-2zM613 508v1h1v-1zM613 514v2h1v-2zM613 521v1h1v-1zM613 527v2h1v-2zM613 534v1h1v-1z" fill="#aaaaaa"/>
</g>
<path d="M251 73h1v1h-1zM256 73h4v1h-4zM298 73h1v1h-1zM356 73h1v1h-1zM423 73h1v1h-1zM252 74h1v1h-1zM254 74h2v1h-2zM260 74h1v1h-1zM299 74h1v1h-1zM356 74h1v1h-1zM422 74h1v1h-1zM253 75h1v1h-1zM261 75h1v1h-1zM299 75h1v1h-1zM355 75h1v1h-1zM422 75h1v1h-1zM262 76h1v1h-1zM300 76h1v1h-1zM355 76h1v1h-1zM421 76h1v1h-1zM263 77h1v1h-1zM300 77h1v1h-1zM354 77h1v1h-1zM420 77h1v1h-1zM263 78h1v1h-1zM301 78h1v1h-1zM354 78h1v1h-1zM419 78h1v1h-1zM264 79h1v1h-1zM302 79h1v1h-1zM330 79h2v1h-2zM353 79h1v1h-1zM419 79h1v1h-1zM265 80h1v1h-1zM302 80h1v1h-1zM329 80h1v1h-1zM332 80h2v1h-2zM353 80h1v1h-1zM418 80h1v1h-1zM265 81h1v1h-1zM303 81h1v1h-1zM328 81h1v1h-1zM334 81h1v1h-1zM352 81h1v1h-1zM418 81h1v1h-1zM266 82h1v1h-1zM303 82h1v1h-1zM327 82h1v1h-1zM335 82h2v1h-2zM352 82h1v1h-1zM416 82h2v1h-2zM267 83h1v1h-1zM304 83h1v1h-1zM325 83h2v1h-2zM337 83h1v1h-1zM351 83h1v1h-1zM413 83h3v1h-3zM268 84h1v1h-1zM304 84h1v1h-1zM324 84h1v1h-1zM338 84h2v1h-2zM349 84h2v1h-2zM410 84h3v1h-3zM269 85h1v1h-1zM305 85h1v1h-1zM324 85h1v1h-1zM340 85h3v1h-3zM346 85h3v1h-3zM406 85h4v1h-4zM270 86h1v1h-1zM305 86h1v1h-1zM325 86h1v1h-1zM343 86h3v1h-3zM404 86h2v1h-2zM270 87h1v1h-1zM306 87h1v1h-1zM325 87h1v1h-1zM403 87h1v1h-1zM271 88h1v1h-1zM306 88h1v1h-1zM323 88h2v1h-2zM402 88h1v1h-1zM271 89h1v1h-1zM307 89h1v1h-1zM322 89h1v1h-1zM401 89h1v1h-1zM271 90h1v1h-1zM308 90h1v1h-1zM321 90h1v1h-1zM400 90h1v1h-1zM271 91h1v1h-1zM308 91h1v1h-1zM320 91h1v1h-1zM400 91h1v1h-1zM271 92h1v1h-1zM309 92h1v1h-1zM319 92h1v1h-1zM399 92h1v1h-1zM271 93h1v1h-1zM309 93h1v1h-1zM318 93h1v1h-1zM399 93h1v1h-1zM271 94h1v1h-1zM309 94h1v1h-1zM318 94h1v1h-1zM399 94h1v1h-1zM272 95h1v1h-1zM310 95h1v1h-1zM317 95h1v1h-1zM398 95h1v1h-1zM272 96h1v1h-1zM285 96h1v1h-1zM310 96h1v1h-1zM317 96h1v1h-1zM398 96h1v1h-1zM273 97h1v1h-1zM284 97h1v1h-1zM286 97h2v1h-2zM310 97h1v1h-1zM316 97h1v1h-1zM393 97h2v1h-2zM397 97h1v1h-1zM274 98h2v1h-2zM283 98h1v1h-1zM288 98h1v1h-1zM310 98h1v1h-1zM315 98h1v1h-1zM392 98h1v1h-1zM395 98h2v1h-2zM276 99h2v1h-2zM283 99h1v1h-1zM289 99h1v1h-1zM310 99h1v1h-1zM315 99h1v1h-1zM371 99h3v1h-3zM390 99h2v1h-2zM396 99h2v1h-2zM278 100h2v1h-2zM281 100h2v1h-2zM289 100h1v1h-1zM311 100h1v1h-1zM314 100h1v1h-1zM369 100h2v1h-2zM374 100h2v1h-2zM389 100h1v1h-1zM395 100h1v1h-1zM397 100h1v1h-1zM280 101h1v1h-1zM290 101h1v1h-1zM311 101h1v1h-1zM314 101h1v1h-1zM368 101h1v1h-1zM376 101h2v1h-2zM388 101h1v1h-1zM394 101h1v1h-1zM396 101h1v1h-1zM290 102h1v1h-1zM311 102h1v1h-1zM313 102h1v1h-1zM368 102h1v1h-1zM378 102h1v1h-1zM382 102h1v1h-1zM388 102h1v1h-1zM395 102h2v1h-2zM291 103h1v1h-1zM310 103h1v1h-1zM313 103h1v1h-1zM367 103h1v1h-1zM379 103h1v1h-1zM381 103h1v1h-1zM383 103h1v1h-1zM388 103h1v1h-1zM396 103h1v1h-1zM291 104h1v1h-1zM310 104h1v1h-1zM313 104h1v1h-1zM315 104h7v1h-7zM366 104h1v1h-1zM380 104h1v1h-1zM384 104h2v1h-2zM387 104h2v1h-2zM291 105h1v1h-1zM309 105h1v1h-1zM314 105h2v1h-2zM322 105h2v1h-2zM365 105h1v1h-1zM386 105h1v1h-1zM289 106h3v1h-3zM309 106h1v1h-1zM314 106h1v1h-1zM324 106h2v1h-2zM364 106h1v1h-1zM287 107h2v1h-2zM291 107h1v1h-1zM309 107h1v1h-1zM313 107h2v1h-2zM326 107h3v1h-3zM363 107h1v1h-1zM286 108h1v1h-1zM292 108h1v1h-1zM309 108h4v1h-4zM329 108h2v1h-2zM362 108h1v1h-1zM284 109h2v1h-2zM292 109h1v1h-1zM331 109h2v1h-2zM357 109h5v1h-5zM282 110h2v1h-2zM292 110h1v1h-1zM333 110h1v1h-1zM346 110h11v1h-11zM281 111h1v1h-1zM293 111h1v1h-1zM334 111h1v1h-1zM344 111h2v1h-2zM280 112h1v1h-1zM294 112h1v1h-1zM334 112h1v1h-1zM341 112h3v1h-3zM278 113h2v1h-2zM294 113h1v1h-1zM335 113h1v1h-1zM338 113h3v1h-3zM277 114h1v1h-1zM295 114h1v1h-1zM336 114h2v1h-2zM276 115h1v1h-1zM296 115h1v1h-1zM276 116h1v1h-1zM297 116h1v1h-1zM275 117h1v1h-1zM298 117h1v1h-1zM256 118h1v1h-1zM275 118h1v1h-1zM299 118h1v1h-1zM254 119h2v1h-2zM257 119h2v1h-2zM274 119h1v1h-1zM300 119h1v1h-1zM253 120h1v1h-1zM259 120h1v1h-1zM274 120h1v1h-1zM301 120h1v1h-1zM252 121h1v1h-1zM260 121h1v1h-1zM274 121h1v1h-1zM301 121h1v1h-1zM251 122h1v1h-1zM261 122h1v1h-1zM274 122h1v1h-1zM302 122h1v1h-1zM250 123h1v1h-1zM262 123h1v1h-1zM273 123h1v1h-1zM303 123h1v1h-1zM250 124h1v1h-1zM263 124h1v1h-1zM273 124h1v1h-1zM303 124h1v1h-1zM249 125h1v1h-1zM264 125h1v1h-1zM272 125h1v1h-1zM304 125h1v1h-1zM249 126h1v1h-1zM265 126h1v1h-1zM272 126h1v1h-1zM304 126h1v1h-1zM249 127h1v1h-1zM266 127h2v1h-2zM270 127h2v1h-2zM304 127h1v1h-1zM249 128h1v1h-1zM268 128h2v1h-2zM304 128h1v1h-1zM248 129h1v1h-1zM305 129h1v1h-1zM248 130h1v1h-1zM305 130h1v1h-1zM247 131h1v1h-1zM305 131h1v1h-1zM247 132h1v1h-1zM305 132h1v1h-1zM246 133h1v1h-1zM305 133h1v1h-1zM245 134h1v1h-1zM306 134h1v1h-1zM245 135h1v1h-1zM306 135h1v1h-1zM244 136h1v1h-1zM306 136h1v1h-1zM243 137h1v1h-1zM306 137h1v1h-1zM243 138h1v1h-1zM306 138h1v1h-1zM242 139h1v1h-1zM306 139h1v1h-1zM241 140h1v1h-1zM306 140h1v1h-1zM241 141h1v1h-1zM306 141h1v1h-1zM240 142h1v1h-1zM307 142h1v1h-1zM239 143h1v1h-1zM307 143h1v1h-1zM239 144h1v1h-1zM307 144h1v1h-1zM238 145h1v1h-1zM307 145h1v1h-1zM238 146h1v1h-1zM307 146h1v1h-1zM237 147h1v1h-1zM307 147h1v1h-1zM236 148h1v1h-1zM307 148h1v1h-1zM236 149h1v1h-1zM306 149h1v1h-1zM235 150h1v1h-1zM306 150h1v1h-1zM234 151h1v1h-1zM306 151h1v1h-1zM234 152h1v1h-1zM305 152h1v1h-1zM233 153h1v1h-1zM304 153h1v1h-1zM232 154h1v1h-1zM302 154h2v1h-2zM232 155h1v1h-1zM299 155h3v1h-3zM231 156h1v1h-1zM296 156h3v1h-3zM230 157h1v1h-1zM294 157h2v1h-2zM230 158h1v1h-1zM293 158h1v1h-1zM229 159h1v1h-1zM292 159h1v1h-1zM229 160h1v1h-1zM291 160h1v1h-1zM228 161h1v1h-1zM290 161h1v1h-1zM228 162h1v1h-1zM288 162h2v1h-2zM227 163h1v1h-1zM287 163h1v1h-1zM226 164h1v1h-1zM285 164h2v1h-2zM225 165h1v1h-1zM282 165h3v1h-3zM224 166h1v1h-1zM280 166h2v1h-2zM223 167h1v1h-1zM276 167h4v1h-4zM222 168h1v1h-1zM274 168h2v1h-2zM222 169h1v1h-1zM272 169h2v1h-2zM221 170h1v1h-1zM271 170h1v1h-1zM221 171h1v1h-1zM270 171h1v1h-1zM220 172h1v1h-1zM269 172h1v1h-1zM220 173h1v1h-1zM269 173h1v1h-1zM219 174h1v1h-1zM268 174h1v1h-1zM219 175h1v1h-1zM268 175h1v1h-1zM219 176h1v1h-1zM268 176h1v1h-1zM218 177h1v1h-1zM267 177h1v1h-1zM292 177h1v1h-1zM218 178h1v1h-1zM267 178h1v1h-1zM275 178h15v1h-15zM292 178h2v1h-2zM218 179h1v1h-1zM266 179h1v1h-1zM272 179h3v1h-3zM290 179h2v1h-2zM293 179h1v1h-1zM217 180h1v1h-1zM260 180h3v1h-3zM266 180h1v1h-1zM270 180h2v1h-2zM294 180h1v1h-1zM217 181h1v1h-1zM259 181h1v1h-1zM263 181h3v1h-3zM268 181h2v1h-2zM295 181h1v1h-1zM217 182h1v1h-1zM259 182h1v1h-1zM267 182h1v1h-1zM295 182h1v1h-1zM217 183h1v1h-1zM259 183h1v1h-1zM267 183h1v1h-1zM296 183h1v1h-1zM216 184h1v1h-1zM259 184h1v1h-1zM267 184h1v1h-1zM297 184h1v1h-1zM216 185h1v1h-1zM259 185h2v1h-2zM267 185h1v1h-1zM298 185h1v1h-1zM216 186h1v1h-1zM261 186h7v1h-7zM299 186h1v1h-1zM217 187h1v1h-1zM299 187h2v1h-2zM659 187h2v1h-2zM217 188h1v1h-1zM298 188h1v1h-1zM301 188h1v1h-1zM648 188h6v1h-6zM657 188h2v1h-2zM217 189h1v1h-1zM298 189h1v1h-1zM302 189h1v1h-1zM645 189h3v1h-3zM654 189h3v1h-3zM218 190h1v1h-1zM297 190h1v1h-1zM303 190h1v1h-1zM644 190h1v1h-1zM218 191h1v1h-1zM297 191h1v1h-1zM304 191h1v1h-1zM643 191h1v1h-1zM218 192h1v1h-1zM296 192h1v1h-1zM305 192h1v1h-1zM642 192h1v1h-1zM219 193h1v1h-1zM296 193h1v1h-1zM306 193h2v1h-2zM640 193h2v1h-2zM219 194h1v1h-1zM295 194h1v1h-1zM308 194h2v1h-2zM639 194h1v1h-1zM219 195h1v1h-1zM295 195h1v1h-1zM310 195h1v1h-1zM637 195h2v1h-2zM219 196h1v1h-1zM294 196h1v1h-1zM310 196h1v1h-1zM630 196h1v1h-1zM634 196h3v1h-3zM219 197h1v1h-1zM294 197h1v1h-1zM311 197h1v1h-1zM589 197h5v1h-5zM628 197h2v1h-2zM631 197h3v1h-3zM219 198h1v1h-1zM293 198h1v1h-1zM311 198h1v1h-1zM584 198h5v1h-5zM594 198h3v1h-3zM624 198h4v1h-4zM219 199h1v1h-1zM293 199h1v1h-1zM311 199h1v1h-1zM580 199h4v1h-4zM597 199h2v1h-2zM620 199h4v1h-4zM219 200h1v1h-1zM292 200h1v1h-1zM312 200h1v1h-1zM578 200h2v1h-2zM599 200h2v1h-2zM619 200h1v1h-1zM219 201h1v1h-1zM292 201h1v1h-1zM312 201h1v1h-1zM577 201h1v1h-1zM601 201h2v1h-2zM618 201h1v1h-1zM219 202h1v1h-1zM291 202h1v1h-1zM312 202h1v1h-1zM576 202h1v1h-1zM603 202h5v1h-5zM614 202h4v1h-4zM219 203h1v1h-1zM291 203h1v1h-1zM313 203h1v1h-1zM575 203h1v1h-1zM608 203h6v1h-6zM219 204h1v1h-1zM290 204h1v1h-1zM313 204h1v1h-1zM573 204h2v1h-2zM219 205h1v1h-1zM289 205h1v1h-1zM314 205h1v1h-1zM571 205h2v1h-2zM219 206h1v1h-1zM289 206h1v1h-1zM314 206h1v1h-1zM527 206h4v1h-4zM570 206h1v1h-1zM219 207h1v1h-1zM288 207h1v1h-1zM315 207h1v1h-1zM523 207h4v1h-4zM531 207h2v1h-2zM569 207h1v1h-1zM219 208h1v1h-1zM287 208h1v1h-1zM316 208h1v1h-1zM521 208h2v1h-2zM533 208h2v1h-2zM568 208h1v1h-1zM219 209h1v1h-1zM286 209h1v1h-1zM316 209h1v1h-1zM519 209h2v1h-2zM535 209h2v1h-2zM567 209h1v1h-1zM219 210h1v1h-1zM286 210h1v1h-1zM317 210h1v1h-1zM518 210h1v1h-1zM537 210h2v1h-2zM547 210h20v1h-20zM219 211h1v1h-1zM285 211h1v1h-1zM317 211h1v1h-1zM517 211h1v1h-1zM539 211h2v1h-2zM545 211h2v1h-2zM219 212h1v1h-1zM261 212h5v1h-5zM285 212h1v1h-1zM318 212h1v1h-1zM515 212h2v1h-2zM541 212h4v1h-4zM218 213h1v1h-1zM258 213h3v1h-3zM266 213h1v1h-1zM284 213h1v1h-1zM318 213h1v1h-1zM514 213h1v1h-1zM218 214h1v1h-1zM256 214h2v1h-2zM267 214h2v1h-2zM283 214h1v1h-1zM318 214h1v1h-1zM513 214h1v1h-1zM218 215h1v1h-1zM254 215h2v1h-2zM269 215h1v1h-1zM283 215h1v1h-1zM319 215h1v1h-1zM512 215h1v1h-1zM218 216h1v1h-1zM253 216h1v1h-1zM270 216h1v1h-1zM282 216h1v1h-1zM319 216h1v1h-1zM510 216h2v1h-2zM217 217h1v1h-1zM249 217h4v1h-4zM271 217h2v1h-2zM282 217h1v1h-1zM320 217h1v1h-1zM509 217h1v1h-1zM217 218h1v1h-1zM244 218h5v1h-5zM273 218h2v1h-2zM281 218h1v1h-1zM321 218h1v1h-1zM508 218h1v1h-1zM218 219h2v1h-2zM236 219h3v1h-3zM242 219h2v1h-2zM275 219h4v1h-4zM280 219h1v1h-1zM321 219h1v1h-1zM506 219h2v1h-2zM220 220h3v1h-3zM234 220h2v1h-2zM239 220h3v1h-3zM279 220h2v1h-2zM322 220h1v1h-1zM504 220h2v1h-2zM223 221h3v1h-3zM230 221h4v1h-4zM279 221h1v1h-1zM323 221h1v1h-1zM503 221h1v1h-1zM226 222h4v1h-4zM279 222h1v1h-1zM324 222h1v1h-1zM501 222h2v1h-2zM278 223h1v1h-1zM324 223h1v1h-1zM499 223h2v1h-2zM278 224h1v1h-1zM325 224h1v1h-1zM497 224h2v1h-2zM277 225h1v1h-1zM326 225h1v1h-1zM496 225h1v1h-1zM277 226h1v1h-1zM326 226h1v1h-1zM495 226h1v1h-1zM276 227h1v1h-1zM327 227h1v1h-1zM436 227h3v1h-3zM494 227h1v1h-1zM276 228h1v1h-1zM327 228h1v1h-1zM434 228h2v1h-2zM439 228h3v1h-3zM493 228h1v1h-1zM275 229h1v1h-1zM328 229h1v1h-1zM433 229h1v1h-1zM442 229h2v1h-2zM492 229h1v1h-1zM274 230h1v1h-1zM329 230h1v1h-1zM432 230h1v1h-1zM444 230h2v1h-2zM491 230h1v1h-1zM273 231h1v1h-1zM330 231h1v1h-1zM430 231h2v1h-2zM446 231h2v1h-2zM490 231h1v1h-1zM272 232h1v1h-1zM330 232h1v1h-1zM429 232h1v1h-1zM448 232h2v1h-2zM462 232h2v1h-2zM489 232h1v1h-1zM271 233h1v1h-1zM331 233h1v1h-1zM428 233h1v1h-1zM450 233h3v1h-3zM458 233h4v1h-4zM464 233h1v1h-1zM487 233h2v1h-2zM271 234h1v1h-1zM332 234h1v1h-1zM427 234h1v1h-1zM453 234h5v1h-5zM464 234h1v1h-1zM485 234h2v1h-2zM270 235h1v1h-1zM333 235h2v1h-2zM425 235h2v1h-2zM465 235h1v1h-1zM483 235h2v1h-2zM270 236h1v1h-1zM335 236h1v1h-1zM424 236h1v1h-1zM466 236h1v1h-1zM480 236h3v1h-3zM270 237h1v1h-1zM336 237h1v1h-1zM423 237h1v1h-1zM467 237h1v1h-1zM477 237h3v1h-3zM270 238h1v1h-1zM337 238h1v1h-1zM422 238h1v1h-1zM468 238h3v1h-3zM475 238h2v1h-2zM269 239h1v1h-1zM338 239h1v1h-1zM420 239h2v1h-2zM471 239h4v1h-4zM268 240h1v1h-1zM339 240h1v1h-1zM419 240h1v1h-1zM267 241h1v1h-1zM339 241h1v1h-1zM413 241h6v1h-6zM266 242h1v1h-1zM340 242h1v1h-1zM411 242h2v1h-2zM266 243h1v1h-1zM341 243h1v1h-1zM410 243h1v1h-1zM266 244h1v1h-1zM342 244h1v1h-1zM409 244h1v1h-1zM267 245h1v1h-1zM343 245h1v1h-1zM407 245h2v1h-2zM267 246h1v1h-1zM344 246h1v1h-1zM405 246h2v1h-2zM268 247h1v1h-1zM345 247h2v1h-2zM404 247h1v1h-1zM268 248h1v1h-1zM347 248h1v1h-1zM402 248h2v1h-2zM269 249h1v1h-1zM348 249h1v1h-1zM400 249h2v1h-2zM269 250h1v1h-1zM349 250h1v1h-1zM399 250h1v1h-1zM270 251h1v1h-1zM350 251h1v1h-1zM398 251h1v1h-1zM270 252h1v1h-1zM351 252h1v1h-1zM397 252h1v1h-1zM271 253h1v1h-1zM352 253h1v1h-1zM396 253h1v1h-1zM272 254h1v1h-1zM353 254h1v1h-1zM378 254h5v1h-5zM395 254h1v1h-1zM273 255h1v1h-1zM354 255h3v1h-3zM374 255h4v1h-4zM383 255h5v1h-5zM392 255h3v1h-3zM273 256h1v1h-1zM357 256h5v1h-5zM372 256h2v1h-2zM388 256h4v1h-4zM273 257h1v1h-1zM362 257h4v1h-4zM370 257h2v1h-2zM274 258h1v1h-1zM366 258h4v1h-4zM274 259h1v1h-1zM274 260h1v1h-1zM274 261h1v1h-1zM274 262h1v1h-1zM275 263h1v1h-1zM275 264h1v1h-1zM275 265h1v1h-1zM275 266h1v1h-1zM276 267h1v1h-1zM276 268h1v1h-1zM277 269h1v1h-1zM277 270h1v1h-1zM278 271h1v1h-1zM279 272h1v1h-1zM280 273h1v1h-1zM280 274h1v1h-1zM281 275h1v1h-1zM282 276h2v1h-2zM284 277h1v1h-1zM284 278h1v1h-1zM284 279h1v1h-1zM285 280h1v1h-1zM285 281h1v1h-1zM285 282h1v1h-1zM285 283h1v1h-1zM286 284h1v1h-1zM286 285h1v1h-1zM287 286h1v1h-1zM287 287h1v1h-1zM288 288h1v1h-1zM289 289h2v1h-2zM291 290h2v1h-2zM293 291h2v1h-2zM295 292h2v1h-2zM296 293h1v1h-1zM297 294h1v1h-1zM297 295h1v1h-1zM297 296h1v1h-1zM297 297h1v1h-1zM298 298h1v1h-1zM298 299h1v1h-1zM298 300h1v1h-1zM298 301h1v1h-1zM298 302h1v1h-1zM298 303h1v1h-1zM298 304h1v1h-1zM298 305h1v1h-1zM299 306h1v1h-1zM299 307h1v1h-1zM300 308h1v1h-1zM301 309h1v1h-1zM302 310h1v1h-1zM303 311h1v1h-1zM304 312h1v1h-1zM305 313h1v1h-1zM306 314h1v1h-1zM306 315h1v1h-1zM306 316h1v1h-1zM306 317h1v1h-1zM306 318h1v1h-1zM307 319h1v1h-1zM307 320h1v1h-1zM308 321h1v1h-1zM308 322h1v1h-1zM309 323h1v1h-1zM310 324h1v1h-1zM311 325h1v1h-1zM312 326h2v1h-2zM314 327h4v1h-4zM318 328h3v1h-3zM321 329h1v1h-1zM322 330h1v1h-1zM323 331h1v1h-1zM324 332h1v1h-1zM325 333h1v1h-1zM326 334h1v1h-1zM327 335h1v1h-1zM328 336h1v1h-1zM329 337h1v1h-1zM330 338h1v1h-1zM330 339h1v1h-1zM331 340h1v1h-1zM332 341h1v1h-1zM333 342h1v1h-1zM334 343h1v1h-1zM335 344h1v1h-1zM335 345h1v1h-1zM336 346h1v1h-1zM337 347h1v1h-1zM338 348h1v1h-1zM338 349h1v1h-1zM339 350h2v1h-2zM341 351h2v1h-2zM343 352h3v1h-3zM346 353h2v1h-2zM348 354h3v1h-3zM351 355h2v1h-2zM353 356h3v1h-3zM356 357h2v1h-2zM358 358h3v1h-3zM361 359h2v1h-2zM363 360h3v1h-3zM366 361h2v1h-2zM368 362h3v1h-3zM371 363h2v1h-2zM373 364h3v1h-3zM376 365h2v1h-2zM378 366h3v1h-3zM381 367h2v1h-2zM383 368h3v1h-3zM386 369h2v1h-2zM388 370h3v1h-3zM391 371h2v1h-2zM393 372h3v1h-3zM396 373h2v1h-2zM398 374h3v1h-3zM401 375h2v1h-2zM403 376h3v1h-3zM406 377h2v1h-2zM408 378h3v1h-3zM411 379h2v1h-2zM413 380h3v1h-3zM416 381h2v1h-2zM418 382h3v1h-3zM421 383h2v1h-2zM423 384h3v1h-3zM426 385h2v1h-2zM428 386h3v1h-3zM431 387h2v1h-2zM433 388h3v1h-3zM436 389h2v1h-2zM438 390h3v1h-3zM441 391h2v1h-2zM443 392h3v1h-3zM446 393h2v1h-2zM448 394h3v1h-3zM451 395h2v1h-2zM453 396h3v1h-3zM456 397h2v1h-2zM458 398h3v1h-3zM461 399h2v1h-2zM463 400h3v1h-3zM466 401h2v1h-2zM468 402h3v1h-3zM471 403h2v1h-2zM473 404h3v1h-3zM476 405h2v1h-2zM478 406h3v1h-3zM481 407h2v1h-2zM483 408h3v1h-3zM486 409h2v1h-2zM488 410h3v1h-3zM491 411h2v1h-2zM493 412h3v1h-3zM496 413h2v1h-2zM498 414h3v1h-3zM501 415h2v1h-2zM503 416h5v1h-5zM511 416h4v1h-4zM517 416h4v1h-4zM524 416h4v1h-4zM530 416h4v1h-4zM537 416h4v1h-4zM543 416h4v1h-4zM550 416h4v1h-4zM556 416h3v1h-3zM557 417h1v1h-1zM556 418h1v1h-1zM660 418h1v1h-1zM555 419h1v1h-1zM659 419h1v1h-1zM555 420h1v1h-1zM658 420h1v1h-1zM554 421h1v1h-1zM658 421h1v1h-1zM553 422h1v1h-1zM658 422h1v1h-1zM552 423h1v1h-1zM658 423h1v1h-1zM551 424h1v1h-1zM658 424h1v1h-1zM550 425h1v1h-1zM658 425h1v1h-1zM549 426h1v1h-1zM658 426h1v1h-1zM549 427h1v1h-1zM658 427h1v1h-1zM548 428h1v1h-1zM658 428h1v1h-1zM547 429h1v1h-1zM658 429h1v1h-1zM546 430h1v1h-1zM658 430h1v1h-1zM545 431h1v1h-1zM658 431h1v1h-1zM544 432h1v1h-1zM658 432h1v1h-1zM543 433h1v1h-1zM658 433h1v1h-1zM543 434h1v1h-1zM658 434h1v1h-1zM542 435h1v1h-1zM657 435h1v1h-1zM541 436h1v1h-1zM657 436h1v1h-1zM540 437h1v1h-1zM656 437h1v1h-1zM539 438h1v1h-1zM656 438h1v1h-1zM538 439h1v1h-1zM656 439h1v1h-1zM537 440h1v1h-1zM655 440h1v1h-1zM536 441h1v1h-1zM655 441h1v1h-1zM536 442h1v1h-1zM654 442h1v1h-1zM535 443h1v1h-1zM654 443h1v1h-1zM534 444h1v1h-1zM654 444h1v1h-1zM533 445h1v1h-1zM653 445h1v1h-1zM532 446h1v1h-1zM653 446h1v1h-1zM531 447h1v1h-1zM653 447h1v1h-1zM530 448h1v1h-1zM652 448h1v1h-1zM530 449h1v1h-1zM652 449h1v1h-1zM529 450h1v1h-1zM651 450h1v1h-1zM528 451h1v1h-1zM651 451h1v1h-1zM527 452h1v1h-1zM650 452h1v1h-1zM526 453h1v1h-1zM650 453h1v1h-1zM525 454h1v1h-1zM649 454h1v1h-1zM524 455h1v1h-1zM649 455h1v1h-1zM524 456h1v1h-1zM648 456h1v1h-1zM523 457h1v1h-1zM647 457h1v1h-1zM522 458h1v1h-1zM647 458h1v1h-1zM521 459h1v1h-1zM646 459h1v1h-1zM520 460h1v1h-1zM646 460h1v1h-1zM519 461h1v1h-1zM645 461h1v1h-1zM518 462h1v1h-1zM645 462h1v1h-1zM518 463h1v1h-1zM644 463h1v1h-1zM517 464h1v1h-1zM643 464h1v1h-1zM516 465h1v1h-1zM642 465h1v1h-1zM515 466h1v1h-1zM642 466h1v1h-1zM514 467h1v1h-1zM641 467h1v1h-1zM513 468h1v1h-1zM641 468h1v1h-1zM512 469h1v1h-1zM641 469h1v1h-1zM511 470h1v1h-1zM641 470h1v1h-1zM510 471h1v1h-1zM640 471h1v1h-1zM509 472h1v1h-1zM640 472h1v1h-1zM508 473h1v1h-1zM639 473h1v1h-1zM507 474h1v1h-1zM639 474h1v1h-1zM506 475h1v1h-1zM638 475h1v1h-1zM505 476h1v1h-1zM637 476h1v1h-1zM504 477h1v1h-1zM636 477h1v1h-1zM503 478h1v1h-1zM636 478h1v1h-1zM502 479h1v1h-1zM635 479h1v1h-1zM501 480h1v1h-1zM634 480h1v1h-1zM501 481h1v1h-1zM634 481h1v1h-1zM500 482h1v1h-1zM633 482h1v1h-1zM499 483h1v1h-1zM633 483h1v1h-1zM498 484h1v1h-1zM632 484h1v1h-1zM497 485h1v1h-1zM632 485h1v1h-1zM497 486h1v1h-1zM631 486h1v1h-1zM496 487h1v1h-1zM630 487h1v1h-1zM495 488h1v1h-1zM630 488h1v1h-1zM494 489h1v1h-1zM629 489h1v1h-1zM494 490h1v1h-1zM628 490h1v1h-1zM493 491h1v1h-1zM628 491h1v1h-1zM492 492h1v1h-1zM627 492h1v1h-1zM491 493h1v1h-1zM627 493h1v1h-1zM490 494h1v1h-1zM626 494h1v1h-1zM490 495h1v1h-1zM626 495h1v1h-1zM489 496h1v1h-1zM625 496h1v1h-1zM488 497h1v1h-1zM625 497h1v1h-1zM487 498h1v1h-1zM625 498h1v1h-1zM486 499h1v1h-1zM624 499h1v1h-1zM485 500h1v1h-1zM624 500h1v1h-1zM485 501h1v1h-1zM624 501h1v1h-1zM484 502h1v1h-1zM624 502h1v1h-1zM483 503h1v1h-1zM623 503h1v1h-1zM482 504h1v1h-1zM623 504h1v1h-1zM481 505h1v1h-1zM623 505h1v1h-1zM480 506h1v1h-1zM623 506h1v1h-1zM480 507h1v1h-1zM622 507h1v1h-1zM479 508h1v1h-1zM622 508h1v1h-1zM478 509h1v1h-1zM621 509h1v1h-1zM477 510h1v1h-1zM621 510h1v1h-1zM476 511h1v1h-1zM620 511h1v1h-1zM475 512h1v1h-1zM620 512h1v1h-1zM475 513h1v1h-1zM619 513h1v1h-1zM474 514h1v1h-1zM619 514h1v1h-1zM473 515h1v1h-1zM618 515h1v1h-1zM472 516h1v1h-1zM618 516h1v1h-1zM471 517h1v1h-1zM618 517h1v1h-1zM471 518h1v1h-1zM618 518h1v1h-1zM470 519h1v1h-1zM618 519h1v1h-1zM469 520h1v1h-1zM618 520h1v1h-1zM468 521h1v1h-1zM618 521h1v1h-1zM467 522h1v1h-1zM618 522h1v1h-1zM467 523h1v1h-1zM618 523h1v1h-1zM466 524h1v1h-1zM618 524h1v1h-1zM465 525h1v1h-1zM618 525h1v1h-1zM464 526h1v1h-1zM618 526h1v1h-1zM463 527h1v1h-1zM618 527h1v1h-1zM463 528h1v1h-1zM618 528h1v1h-1zM462 529h1v1h-1zM618 529h1v1h-1zM461 530h1v1h-1zM618 530h1v1h-1zM460 531h1v1h-1zM618 531h1v1h-1zM460 532h1v1h-1zM618 532h1v1h-1zM459 533h1v1h-1zM617 533h1v1h-1zM458 534h1v1h-1zM617 534h1v1h-1zM457 535h1v1h-1zM617 535h1v1h-1zM456 536h1v1h-1zM617 536h1v1h-1zM456 537h1v1h-1zM616 537h1v1h-1zM455 538h1v1h-1zM616 538h1v1h-1z" fill="#000" shape-rendering="crispEdges"/>
<rect x="165" y="72" width="497" height="468" fill="none" stroke="#000" stroke-width="2" shape-rendering="crispEdges"/>
<path d="M175.5 541v5M229.5 541v5M284.5 541v5M339.5 541v5M394.5 541v5M449.5 541v5M504.5 541v5M559.5 541v5M613.5 541v5M164 515.5h-4M164 482.5h-4M164 449.5h-4M164 416.5h-4M164 383.5h-4M164 350.5h-4M164 318.5h-4M164 285.5h-4M164 252.5h-4M164 219.5h-4M164 186.5h-4M164 153.5h-4M164 120.5h-4M164 87.5h-4" stroke="#000" stroke-width="1" fill="none" shape-rendering="crispEdges"/>
<text class="b" x="175.5" y="560.2" text-anchor="middle" textLength="25" lengthAdjust="spacingAndGlyphs">41E</text>
<text class="b" x="229.5" y="560.2" text-anchor="middle" textLength="25" lengthAdjust="spacingAndGlyphs">42E</text>
<text class="b" x="284.5" y="560.2" text-anchor="middle" textLength="25" lengthAdjust="spacingAndGlyphs">43E</text>
<text class="b" x="339.5" y="560.2" text-anchor="middle" textLength="25" lengthAdjust="spacingAndGlyphs">44E</text>
<text class="b" x="394.5" y="560.2" text-anchor="middle" textLength="25" lengthAdjust="spacingAndGlyphs">45E</text>
<text class="b" x="449.5" y="560.2" text-anchor="middle" textLength="25" lengthAdjust="spacingAndGlyphs">46E</text>
<text class="b" x="504.5" y="560.2" text-anchor="middle" textLength="25" lengthAdjust="spacingAndGlyphs">47E</text>
<text class="b" x="559.5" y="560.2" text-anchor="middle" textLength="25" lengthAdjust="spacingAndGlyphs">48E</text>
<text class="b" x="613.5" y="560.2" text-anchor="middle" textLength="25" lengthAdjust="spacingAndGlyphs">49E</text>
<text class="a" x="157.2" y="520.9" text-anchor="end" textLength="30.7" lengthAdjust="spacingAndGlyphs">6.5N</text>
<text class="a" x="157.2" y="487.9" text-anchor="end" textLength="18" lengthAdjust="spacingAndGlyphs">7N</text>
<text class="a" x="157.2" y="454.9" text-anchor="end" textLength="30.7" lengthAdjust="spacingAndGlyphs">7.5N</text>
<text class="a" x="157.2" y="421.9" text-anchor="end" textLength="18" lengthAdjust="spacingAndGlyphs">8N</text>
<text class="a" x="157.2" y="388.9" text-anchor="end" textLength="30.7" lengthAdjust="spacingAndGlyphs">8.5N</text>
<text class="a" x="157.2" y="355.9" text-anchor="end" textLength="18" lengthAdjust="spacingAndGlyphs">9N</text>
<text class="a" x="157.2" y="323.9" text-anchor="end" textLength="30.7" lengthAdjust="spacingAndGlyphs">9.5N</text>
<text class="a" x="157.2" y="290.9" text-anchor="end" textLength="26.3" lengthAdjust="spacingAndGlyphs">10N</text>
<text class="a" x="157.2" y="257.9" text-anchor="end" textLength="38.7" lengthAdjust="spacingAndGlyphs">10.5N</text>
<text class="a" x="157.2" y="224.9" text-anchor="end" textLength="26.3" lengthAdjust="spacingAndGlyphs">11N</text>
<text class="a" x="157.2" y="191.9" text-anchor="end" textLength="38.7" lengthAdjust="spacingAndGlyphs">11.5N</text>
<text class="a" x="157.2" y="158.9" text-anchor="end" textLength="26.3" lengthAdjust="spacingAndGlyphs">12N</text>
<text class="a" x="157.2" y="125.9" text-anchor="end" textLength="38.7" lengthAdjust="spacingAndGlyphs">12.5N</text>
<text class="a" x="157.2" y="92.9" text-anchor="end" textLength="26.3" lengthAdjust="spacingAndGlyphs">13N</text>
<text class="t" x="148.2" y="60" textLength="82" lengthAdjust="spacingAndGlyphs">Rainfall</text>
<text class="t" x="243.5" y="60" textLength="78.5" lengthAdjust="spacingAndGlyphs">(7-day</text>
<text class="t" x="340" y="60" textLength="83.5" lengthAdjust="spacingAndGlyphs">accum.)</text>
<text class="t" x="442.5" y="60" textLength="65" lengthAdjust="spacingAndGlyphs">[mm]</text>
<text class="t" x="521" y="60" textLength="156" lengthAdjust="spacingAndGlyphs">15Z28Jul2021</text>
<text class="u" x="215.4" y="289" textLength="82.2" lengthAdjust="spacingAndGlyphs">Entire</text>
<text class="u" x="311.8" y="289" textLength="58" lengthAdjust="spacingAndGlyphs">Grid</text>
<text class="u" x="383.6" y="289" textLength="141" lengthAdjust="spacingAndGlyphs">Undefined</text>
<g shape-rendering="crispEdges" stroke="#000" stroke-width="1">
<polygon points="727.5,252 734.5,287.5 720.5,287.5" fill="#aaaaaa"/>
<polygon points="727.5,361 734.5,324.8 720.5,324.8" fill="#aaaaaa"/>
<rect x="720.5" y="287.5" width="14" height="37.3" fill="#fff"/>
</g>
<text class="c" x="737.7" y="293.6" textLength="60" lengthAdjust="spacingAndGlyphs">90770.5</text>
<text class="c" x="737.7" y="330.4" textLength="60" lengthAdjust="spacingAndGlyphs">9.07705</text>
</svg></body></html>
